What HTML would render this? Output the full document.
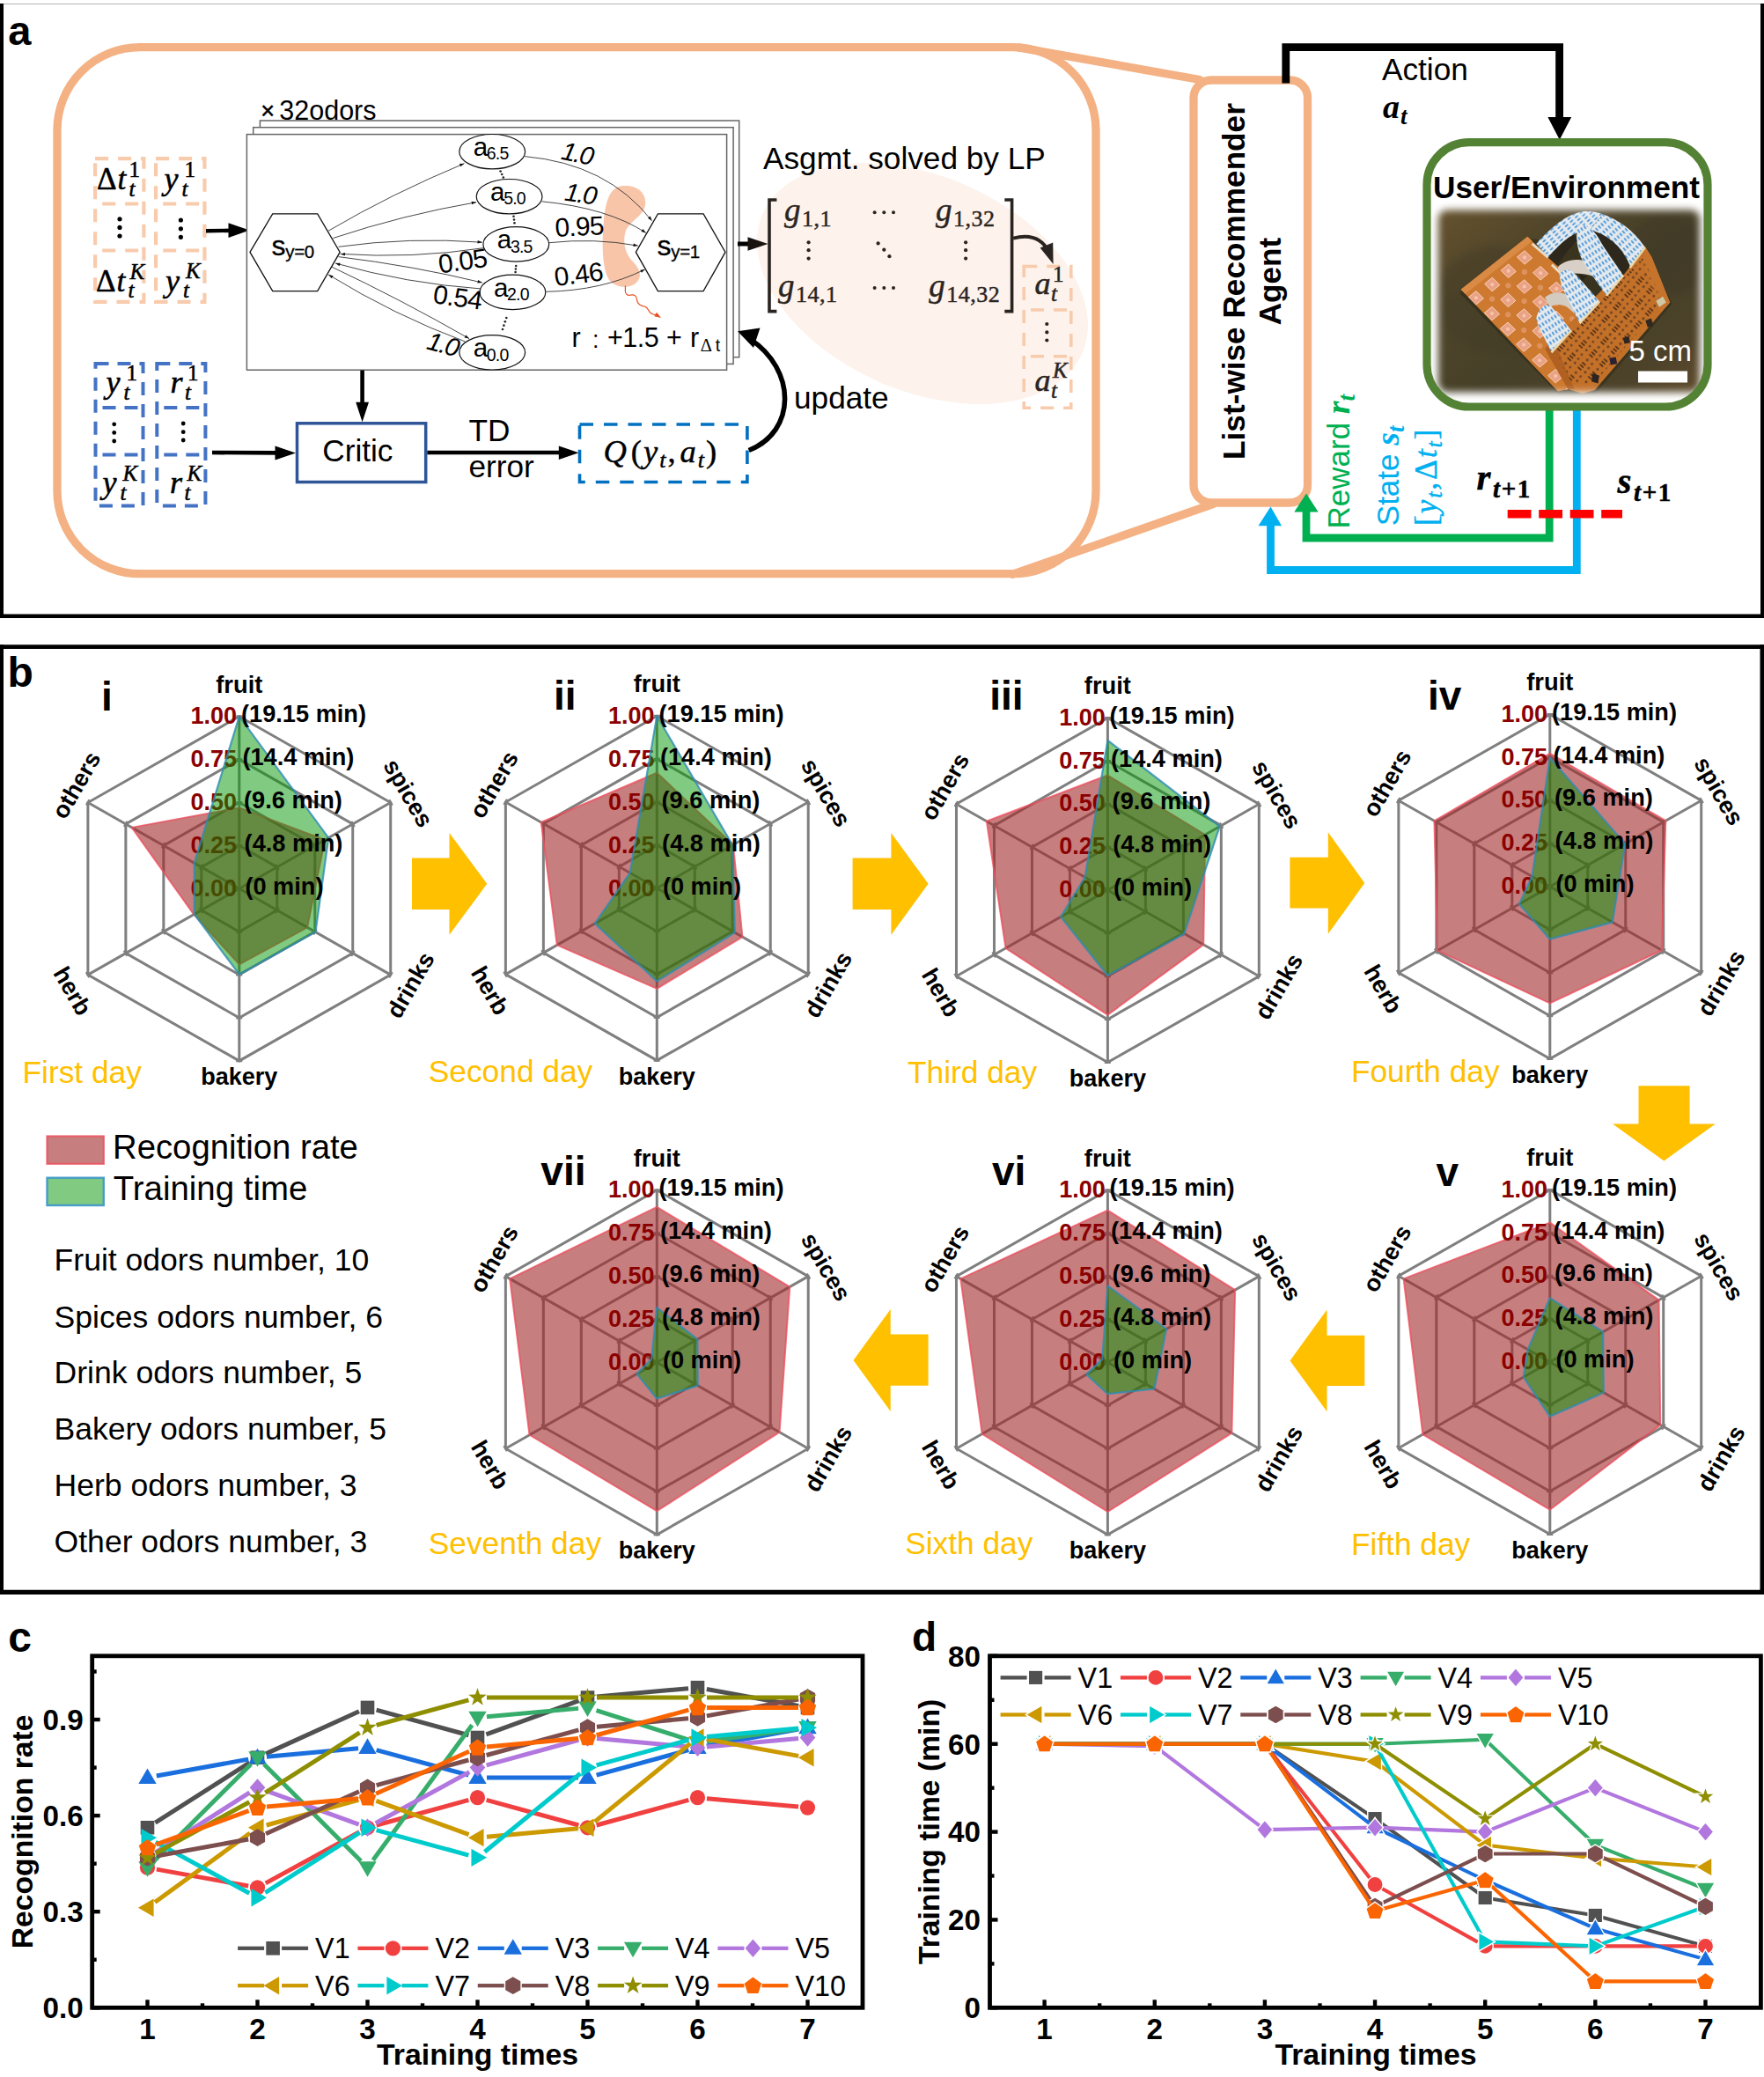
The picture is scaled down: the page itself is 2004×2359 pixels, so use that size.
<!DOCTYPE html>
<html lang="en"><head><meta charset="utf-8"><title>Figure</title>
<style>
html,body{margin:0;padding:0;background:#fff;}
svg{display:block;font-family:"Liberation Sans",sans-serif;}
</style></head><body>
<svg width="2004" height="2359" viewBox="0 0 2004 2359">
<rect x="0" y="0" width="2004" height="2359" fill="#fff"/>
<line x1="0" y1="4.5" x2="2004" y2="4.5" stroke="#b4b4b4" stroke-width="1.2"/>
<line x1="2" y1="4" x2="2" y2="702" stroke="#000" stroke-width="4"/>
<line x1="2002" y1="4" x2="2002" y2="702" stroke="#000" stroke-width="4"/>
<line x1="0" y1="699.8" x2="2004" y2="699.8" stroke="#000" stroke-width="4.6"/>
<text x="9.2" y="50.5" font-size="47" font-weight="bold" fill="#000">a</text>
<path d="M1157 53.8 L1363 90.5" fill="none" stroke="#F4B183" stroke-width="9.3" stroke-linecap="round"/>
<path d="M1150 652.3 L1378 572.5" fill="none" stroke="#F4B183" stroke-width="9.3" stroke-linecap="round"/>
<rect x="65" y="53.7" width="1180" height="598" rx="94" fill="none" stroke="#F4B183" stroke-width="9.3"/>
<rect x="1356" y="91" width="129.5" height="480" rx="20" fill="#fff" stroke="#F4B183" stroke-width="9.3"/>
<text x="1413.6" y="319.5" font-size="35.2" font-weight="bold" text-anchor="middle" fill="#000" transform="rotate(-90 1413.6 319.5)">List-wise Recommender</text>
<text x="1454.6" y="319.5" font-size="35.2" font-weight="bold" text-anchor="middle" fill="#000" transform="rotate(-90 1454.6 319.5)">Agent</text>
<ellipse cx="1048" cy="322" rx="198" ry="122" fill="#FDF2EC" transform="rotate(23.5 1048 322)"/>
<rect x="108.1" y="180.1" width="55.3" height="162.8" fill="none" stroke="#F8CBAD" stroke-width="4.2" stroke-dasharray="15 11"/>
<line x1="116.2" y1="231.5" x2="161.3" y2="231.5" stroke="#F8CBAD" stroke-width="4.2" stroke-dasharray="15 11"/>
<line x1="116.2" y1="284.5" x2="161.3" y2="284.5" stroke="#F8CBAD" stroke-width="4.2" stroke-dasharray="15 11"/>
<rect x="177.1" y="180.1" width="55.3" height="162.8" fill="none" stroke="#F8CBAD" stroke-width="4.2" stroke-dasharray="15 11"/>
<line x1="185.2" y1="231.5" x2="230.3" y2="231.5" stroke="#F8CBAD" stroke-width="4.2" stroke-dasharray="15 11"/>
<line x1="185.2" y1="284.5" x2="230.3" y2="284.5" stroke="#F8CBAD" stroke-width="4.2" stroke-dasharray="15 11"/>
<text x="110" y="215" font-size="35" font-style="italic" font-family='"Liberation Serif", serif' fill="#000" stroke="#000" stroke-width="0.55"><tspan font-style="normal">Δ</tspan><tspan dx="1">t</tspan></text>
<text x="146.5" y="201" font-size="25" font-family='"Liberation Serif", serif' fill="#000" stroke="#000" stroke-width="0.55">1</text>
<text x="146.5" y="222.7" font-size="25" font-style="italic" font-family='"Liberation Serif", serif' fill="#000" stroke="#000" stroke-width="0.55">t</text>
<text x="186.5" y="215" font-size="36" font-style="italic" font-family='"Liberation Serif", serif' fill="#000" stroke="#000" stroke-width="0.55">y</text>
<text x="209.5" y="200.6" font-size="25" font-family='"Liberation Serif", serif' fill="#000" stroke="#000" stroke-width="0.55">1</text>
<text x="206.5" y="222.92" font-size="25" font-style="italic" font-family='"Liberation Serif", serif' fill="#000" stroke="#000" stroke-width="0.55">t</text>
<text x="109" y="330.5" font-size="35" font-style="italic" font-family='"Liberation Serif", serif' fill="#000" stroke="#000" stroke-width="0.55"><tspan font-style="normal">Δ</tspan><tspan dx="1">t</tspan></text>
<text x="147.5" y="316.5" font-size="25" font-style="italic" font-family='"Liberation Serif", serif' fill="#000" stroke="#000" stroke-width="0.55">K</text>
<text x="145.5" y="338.2" font-size="25" font-style="italic" font-family='"Liberation Serif", serif' fill="#000" stroke="#000" stroke-width="0.55">t</text>
<text x="188" y="330.5" font-size="36" font-style="italic" font-family='"Liberation Serif", serif' fill="#000" stroke="#000" stroke-width="0.55">y</text>
<text x="211" y="316.1" font-size="25" font-style="italic" font-family='"Liberation Serif", serif' fill="#000" stroke="#000" stroke-width="0.55">K</text>
<text x="208" y="338.42" font-size="25" font-style="italic" font-family='"Liberation Serif", serif' fill="#000" stroke="#000" stroke-width="0.55">t</text>
<circle cx="136" cy="248.8" r="2.6" fill="#000" stroke="none" stroke-width="1"/>
<circle cx="136" cy="258.4" r="2.6" fill="#000" stroke="none" stroke-width="1"/>
<circle cx="136" cy="268" r="2.6" fill="#000" stroke="none" stroke-width="1"/>
<circle cx="205.4" cy="250" r="2.6" fill="#000" stroke="none" stroke-width="1"/>
<circle cx="205.4" cy="259.8" r="2.6" fill="#000" stroke="none" stroke-width="1"/>
<circle cx="205.4" cy="269.3" r="2.6" fill="#000" stroke="none" stroke-width="1"/>
<line x1="234" y1="262.2" x2="264" y2="261.8" stroke="#000" stroke-width="4.4"/>
<polygon points="283.5,261.5 259.5,253.3 259.5,270" fill="#000" stroke="none" stroke-width="1"/>
<rect x="295.4" y="137" width="544.3" height="268.7" fill="#fff" stroke="#666" stroke-width="1.5"/>
<rect x="287.7" y="144.7" width="545.4" height="268.7" fill="#fff" stroke="#666" stroke-width="1.5"/>
<rect x="280.4" y="152.6" width="545.2" height="267.6" fill="#fff" stroke="#666" stroke-width="1.5"/>
<text x="296.2" y="135.2" font-size="27" fill="#000" stroke="#000" stroke-width="0.5">×</text>
<text x="317.3" y="136.2" font-size="30.5" fill="#000">32odors</text>
<path d="M705 211.5 C722 209 735 218 733 233 C731 246 716 250 711 262 C707 274 710 287 718 296 C726 304 730 312 724 320 C717 328 700 328 692 318 C683 304 684 272 686 250 C688 230 692 214 705 211.5 Z" fill="#F8C5A9" stroke="none" stroke-width="1"/>
<polygon points="284,286.4 309.7,242.9 360.7,242.9 386.2,286.4 360.7,330.6 309.7,330.6" fill="#fff" stroke="#111" stroke-width="1.3"/>
<polygon points="722.4,286.4 747.4,242.9 799.1,242.9 824,286.4 799.1,330.6 747.4,330.6" fill="#fff" stroke="#111" stroke-width="1.3"/>
<text x="308.5" y="289.8" font-size="32" fill="#000" letter-spacing="-0.3" stroke="#000" stroke-width="0.3">s<tspan font-size="20.5" dy="3.2">y=0</tspan></text>
<text x="746.5" y="289.8" font-size="32" fill="#000" letter-spacing="-0.3" stroke="#000" stroke-width="0.3">s<tspan font-size="20.5" dy="3.2">y=1</tspan></text>
<ellipse cx="559.2" cy="172.2" rx="37.4" ry="19.7" fill="#fff" stroke="#111" stroke-width="1.2"/>
<text x="537.7" y="176.8" font-size="29.5" fill="#000" letter-spacing="-0.8">a<tspan font-size="19.5" dy="4.6" dx="-0.5">6.5</tspan></text>
<ellipse cx="578.6" cy="223.2" rx="37.4" ry="19.7" fill="#fff" stroke="#111" stroke-width="1.2"/>
<text x="557.1" y="227.8" font-size="29.5" fill="#000" letter-spacing="-0.8">a<tspan font-size="19.5" dy="4.6" dx="-0.5">5.0</tspan></text>
<ellipse cx="586.3" cy="277.4" rx="37.4" ry="19.7" fill="#fff" stroke="#111" stroke-width="1.2"/>
<text x="564.8" y="282" font-size="29.5" fill="#000" letter-spacing="-0.8">a<tspan font-size="19.5" dy="4.6" dx="-0.5">3.5</tspan></text>
<ellipse cx="582.4" cy="331.9" rx="37.4" ry="19.7" fill="#fff" stroke="#111" stroke-width="1.2"/>
<text x="560.9" y="336.5" font-size="29.5" fill="#000" letter-spacing="-0.8">a<tspan font-size="19.5" dy="4.6" dx="-0.5">2.0</tspan></text>
<ellipse cx="559.2" cy="400.3" rx="37.4" ry="19.7" fill="#fff" stroke="#111" stroke-width="1.2"/>
<text x="537.7" y="404.9" font-size="29.5" fill="#000" letter-spacing="-0.8">a<tspan font-size="19.5" dy="4.6" dx="-0.5">0.0</tspan></text>
<circle cx="568.6" cy="194.5" r="1.3" fill="#222" stroke="none" stroke-width="1"/>
<circle cx="570.2" cy="198" r="1.3" fill="#222" stroke="none" stroke-width="1"/>
<circle cx="571.8" cy="201.5" r="1.3" fill="#222" stroke="none" stroke-width="1"/>
<circle cx="583.5" cy="245.8" r="1.3" fill="#222" stroke="none" stroke-width="1"/>
<circle cx="584" cy="249.5" r="1.3" fill="#222" stroke="none" stroke-width="1"/>
<circle cx="584.5" cy="253.2" r="1.3" fill="#222" stroke="none" stroke-width="1"/>
<circle cx="586.2" cy="302" r="1.3" fill="#222" stroke="none" stroke-width="1"/>
<circle cx="585.9" cy="305.5" r="1.3" fill="#222" stroke="none" stroke-width="1"/>
<circle cx="585.6" cy="309" r="1.3" fill="#222" stroke="none" stroke-width="1"/>
<circle cx="575.3" cy="361" r="1.3" fill="#222" stroke="none" stroke-width="1"/>
<circle cx="573.87" cy="365.33" r="1.3" fill="#222" stroke="none" stroke-width="1"/>
<circle cx="572.43" cy="369.67" r="1.3" fill="#222" stroke="none" stroke-width="1"/>
<circle cx="571" cy="374" r="1.3" fill="#222" stroke="none" stroke-width="1"/>
<path d="M373.2 262.1 Q445 220 527.4 185.7" fill="none" stroke="#333" stroke-width="0.9"/>
<polygon points="527.4,185.7 523.29,189.36 521.91,186.04" fill="#111" stroke="none" stroke-width="1"/>
<path d="M378.4 270.5 Q458 244 541 229.7" fill="none" stroke="#333" stroke-width="0.9"/>
<polygon points="541,229.7 536.18,232.36 535.57,228.81" fill="#111" stroke="none" stroke-width="1"/>
<path d="M384.5 280.3 Q465 269 547.8 275.2" fill="none" stroke="#333" stroke-width="0.9"/>
<polygon points="547.8,275.2 542.48,276.61 542.75,273.02" fill="#111" stroke="none" stroke-width="1"/>
<path d="M550 281.6 Q468 294 386.8 288.4" fill="none" stroke="#333" stroke-width="0.9"/>
<polygon points="386.8,288.4 392.11,286.96 391.86,290.55" fill="#111" stroke="none" stroke-width="1"/>
<path d="M384.5 291.6 Q470 302 547.8 321" fill="none" stroke="#333" stroke-width="0.9"/>
<polygon points="547.8,321 542.32,321.51 543.18,318.02" fill="#111" stroke="none" stroke-width="1"/>
<path d="M545.5 327.9 Q462 322 381.1 299" fill="none" stroke="#333" stroke-width="0.9"/>
<polygon points="381.1,299 386.59,298.69 385.61,302.15" fill="#111" stroke="none" stroke-width="1"/>
<path d="M376.6 303 Q455 340 533 384.6" fill="none" stroke="#333" stroke-width="0.9"/>
<polygon points="533,384.6 527.59,383.58 529.38,380.46" fill="#111" stroke="none" stroke-width="1"/>
<path d="M528.5 388 Q448 358 373.2 312" fill="none" stroke="#333" stroke-width="0.9"/>
<polygon points="373.2,312 378.57,313.19 376.69,316.26" fill="#111" stroke="none" stroke-width="1"/>
<path d="M596 177.6 Q690 186 740.6 250.8" fill="none" stroke="#333" stroke-width="0.9"/>
<polygon points="740.6,250.8 735.98,247.81 738.82,245.59" fill="#111" stroke="none" stroke-width="1"/>
<path d="M615.4 228.8 Q690 236 733.8 264.4" fill="none" stroke="#333" stroke-width="0.9"/>
<polygon points="733.8,264.4 728.46,263.08 730.42,260.06" fill="#111" stroke="none" stroke-width="1"/>
<path d="M623.8 275.7 Q675 270 724.7 279.1" fill="none" stroke="#333" stroke-width="0.9"/>
<polygon points="724.7,279.1 719.26,279.93 719.91,276.39" fill="#111" stroke="none" stroke-width="1"/>
<path d="M620.4 331.3 Q685 330 732.7 305.9" fill="none" stroke="#333" stroke-width="0.9"/>
<polygon points="732.7,305.9 728.87,309.85 727.25,306.64" fill="#111" stroke="none" stroke-width="1"/>
<text x="636.5" y="180.5" font-size="29" font-style="italic" fill="#000" letter-spacing="-1.7" transform="rotate(12 636.5 180.5)">1.0</text>
<text x="640.5" y="227.5" font-size="29" font-style="italic" fill="#000" letter-spacing="-1.7" transform="rotate(8 640.5 227.5)">1.0</text>
<text x="631" y="269" font-size="30" fill="#000" letter-spacing="-0.8" transform="rotate(-3 631 269)">0.95</text>
<text x="631" y="325" font-size="30" fill="#000" letter-spacing="-0.8" transform="rotate(-7 631 325)">0.46</text>
<text x="499.5" y="310.5" font-size="30" fill="#000" letter-spacing="-0.8" transform="rotate(-8 499.5 310.5)">0.05</text>
<text x="491" y="344" font-size="30" fill="#000" letter-spacing="-0.8" transform="rotate(8 491 344)">0.54</text>
<text x="483.5" y="396" font-size="29" font-style="italic" fill="#000" letter-spacing="-1.7" transform="rotate(15 483.5 396)">1.0</text>
<path d="M710.4 324.5 L710.4 331 Q711 336 716 335.2 Q722.5 333.6 723.4 339.5 Q724 346 729.5 347.3 Q735 348 736.8 352.6 Q739 357 745 357.6" fill="none" stroke="#E9501E" stroke-width="1.2"/>
<polygon points="751,361 743.26,359.23 746.02,354.82" fill="#E9501E" stroke="none" stroke-width="1"/>
<text x="649.5" y="394" font-size="30.5" fill="#000">r</text>
<text x="673" y="395.2" font-size="27" fill="#000">:</text>
<text x="690" y="394" font-size="30.5" fill="#000" letter-spacing="-0.5">+1.5</text>
<text x="757" y="394" font-size="30.5" fill="#000">+</text>
<text x="784" y="394" font-size="30.5" fill="#000">r</text>
<text x="795.8" y="399.2" font-size="20.5" font-family='"Liberation Serif", serif' fill="#000">Δ</text>
<text x="812.8" y="399.2" font-size="19.5" fill="#000">t</text>
<line x1="838" y1="277" x2="853" y2="277" stroke="#000" stroke-width="5"/>
<polygon points="872.5,277 849.5,269.2 849.5,284.8" fill="#1a1410" stroke="none" stroke-width="1"/>
<text x="867" y="191.5" font-size="35.2" fill="#000">Asgmt. solved by LP</text>
<path d="M882.4 227 L874 227 L874 353.6 L882.4 353.6" fill="none" stroke="#2A2420" stroke-width="3.6"/>
<path d="M1141.3 227 L1149.6 227 L1149.6 353.6 L1141.3 353.6" fill="none" stroke="#2A2420" stroke-width="3.6"/>
<text x="891" y="250.6" font-size="37" font-family='"Liberation Serif", serif' fill="#2A2420" stroke="#2A2420" stroke-width="0.45"><tspan font-style="italic">g</tspan><tspan font-size="26" dy="6.6" dx="1.4" letter-spacing="0.5">1,1</tspan></text>
<text x="884" y="336.6" font-size="37" font-family='"Liberation Serif", serif' fill="#2A2420" stroke="#2A2420" stroke-width="0.45"><tspan font-style="italic">g</tspan><tspan font-size="26" dy="6.6" dx="1.4" letter-spacing="0.5">14,1</tspan></text>
<text x="1063" y="250.6" font-size="37" font-family='"Liberation Serif", serif' fill="#2A2420" stroke="#2A2420" stroke-width="0.45"><tspan font-style="italic">g</tspan><tspan font-size="26" dy="6.6" dx="1.4" letter-spacing="0.5">1,32</tspan></text>
<text x="1055.3" y="336.6" font-size="37" font-family='"Liberation Serif", serif' fill="#2A2420" stroke="#2A2420" stroke-width="0.45"><tspan font-style="italic">g</tspan><tspan font-size="26" dy="6.6" dx="1.4" letter-spacing="0.5">14,32</tspan></text>
<circle cx="993.6" cy="241.2" r="2" fill="#2A2420" stroke="none" stroke-width="1"/>
<circle cx="993.6" cy="326.9" r="2" fill="#2A2420" stroke="none" stroke-width="1"/>
<circle cx="1004.3" cy="241.2" r="2" fill="#2A2420" stroke="none" stroke-width="1"/>
<circle cx="1004.3" cy="326.9" r="2" fill="#2A2420" stroke="none" stroke-width="1"/>
<circle cx="1015" cy="241.2" r="2" fill="#2A2420" stroke="none" stroke-width="1"/>
<circle cx="1015" cy="326.9" r="2" fill="#2A2420" stroke="none" stroke-width="1"/>
<circle cx="997.6" cy="276.4" r="2.1" fill="#2A2420" stroke="none" stroke-width="1"/>
<circle cx="1004.3" cy="283.7" r="2.1" fill="#2A2420" stroke="none" stroke-width="1"/>
<circle cx="1010.4" cy="291.2" r="2.1" fill="#2A2420" stroke="none" stroke-width="1"/>
<circle cx="918.6" cy="275.3" r="2.1" fill="#2A2420" stroke="none" stroke-width="1"/>
<circle cx="918.6" cy="284.2" r="2.1" fill="#2A2420" stroke="none" stroke-width="1"/>
<circle cx="918.6" cy="293.6" r="2.1" fill="#2A2420" stroke="none" stroke-width="1"/>
<circle cx="1097.1" cy="275.3" r="2.1" fill="#2A2420" stroke="none" stroke-width="1"/>
<circle cx="1097.1" cy="284.2" r="2.1" fill="#2A2420" stroke="none" stroke-width="1"/>
<circle cx="1097.1" cy="293.6" r="2.1" fill="#2A2420" stroke="none" stroke-width="1"/>
<path d="M1151 270.6 Q1180 263 1191.5 286" fill="none" stroke="#2A2420" stroke-width="3.8"/>
<polygon points="1196.6,300 1181.6,281.5 1196.2,275.5" fill="#2A2420" stroke="none" stroke-width="1"/>
<rect x="1163.2" y="302.5" width="53.6" height="160.7" fill="none" stroke="#F8CBAD" stroke-width="3.6" stroke-dasharray="15 11"/>
<line x1="1171" y1="352" x2="1215" y2="352" stroke="#F8CBAD" stroke-width="3.6" stroke-dasharray="15 11"/>
<line x1="1171" y1="404.8" x2="1215" y2="404.8" stroke="#F8CBAD" stroke-width="3.6" stroke-dasharray="15 11"/>
<text x="1175.5" y="334" font-size="36" font-style="italic" font-family='"Liberation Serif", serif' fill="#2A2420" stroke="#2A2420" stroke-width="0.55">a</text>
<text x="1196" y="319.6" font-size="25" font-family='"Liberation Serif", serif' fill="#2A2420" stroke="#2A2420" stroke-width="0.55">1</text>
<text x="1194" y="341.92" font-size="25" font-style="italic" font-family='"Liberation Serif", serif' fill="#2A2420" stroke="#2A2420" stroke-width="0.55">t</text>
<text x="1175.5" y="443.6" font-size="36" font-style="italic" font-family='"Liberation Serif", serif' fill="#2A2420" stroke="#2A2420" stroke-width="0.55">a</text>
<text x="1196" y="429.2" font-size="25" font-style="italic" font-family='"Liberation Serif", serif' fill="#2A2420" stroke="#2A2420" stroke-width="0.55">K</text>
<text x="1194" y="451.52" font-size="25" font-style="italic" font-family='"Liberation Serif", serif' fill="#2A2420" stroke="#2A2420" stroke-width="0.55">t</text>
<circle cx="1189.3" cy="368" r="2.1" fill="#2A2420" stroke="none" stroke-width="1"/>
<circle cx="1189.3" cy="377.4" r="2.1" fill="#2A2420" stroke="none" stroke-width="1"/>
<circle cx="1189.3" cy="386.5" r="2.1" fill="#2A2420" stroke="none" stroke-width="1"/>
<text x="902" y="464.3" font-size="35.2" fill="#000">update</text>
<path d="M850.7 511.5 C905 490 905 420 852 385" fill="none" stroke="#000" stroke-width="5.6"/>
<polygon points="838,376.3 863.5,372.5 856,395" fill="#000" stroke="none" stroke-width="1"/>
<rect x="108.5" y="413" width="54" height="161.4" fill="none" stroke="#4472C4" stroke-width="4" stroke-dasharray="15 10"/>
<line x1="116.5" y1="463" x2="160.5" y2="463" stroke="#4472C4" stroke-width="4" stroke-dasharray="15 10"/>
<line x1="116.5" y1="516.5" x2="160.5" y2="516.5" stroke="#4472C4" stroke-width="4" stroke-dasharray="15 10"/>
<rect x="178.3" y="413" width="55.1" height="161.4" fill="none" stroke="#4472C4" stroke-width="4" stroke-dasharray="15 10"/>
<line x1="186.3" y1="463" x2="231.4" y2="463" stroke="#4472C4" stroke-width="4" stroke-dasharray="15 10"/>
<line x1="186.3" y1="516.5" x2="231.4" y2="516.5" stroke="#4472C4" stroke-width="4" stroke-dasharray="15 10"/>
<text x="120.5" y="446" font-size="36" font-style="italic" font-family='"Liberation Serif", serif' fill="#000" stroke="#000" stroke-width="0.55">y</text>
<text x="143.5" y="431.6" font-size="25" font-family='"Liberation Serif", serif' fill="#000" stroke="#000" stroke-width="0.55">1</text>
<text x="140.5" y="453.92" font-size="25" font-style="italic" font-family='"Liberation Serif", serif' fill="#000" stroke="#000" stroke-width="0.55">t</text>
<text x="193.5" y="446" font-size="36" font-style="italic" font-family='"Liberation Serif", serif' fill="#000" stroke="#000" stroke-width="0.55">r</text>
<text x="213" y="431.6" font-size="25" font-family='"Liberation Serif", serif' fill="#000" stroke="#000" stroke-width="0.55">1</text>
<text x="210" y="453.92" font-size="25" font-style="italic" font-family='"Liberation Serif", serif' fill="#000" stroke="#000" stroke-width="0.55">t</text>
<text x="116.5" y="560" font-size="36" font-style="italic" font-family='"Liberation Serif", serif' fill="#000" stroke="#000" stroke-width="0.55">y</text>
<text x="139.5" y="545.6" font-size="25" font-style="italic" font-family='"Liberation Serif", serif' fill="#000" stroke="#000" stroke-width="0.55">K</text>
<text x="136.5" y="567.92" font-size="25" font-style="italic" font-family='"Liberation Serif", serif' fill="#000" stroke="#000" stroke-width="0.55">t</text>
<text x="193" y="560" font-size="36" font-style="italic" font-family='"Liberation Serif", serif' fill="#000" stroke="#000" stroke-width="0.55">r</text>
<text x="212.5" y="545.6" font-size="25" font-style="italic" font-family='"Liberation Serif", serif' fill="#000" stroke="#000" stroke-width="0.55">K</text>
<text x="209.5" y="567.92" font-size="25" font-style="italic" font-family='"Liberation Serif", serif' fill="#000" stroke="#000" stroke-width="0.55">t</text>
<circle cx="129.7" cy="481.8" r="2.4" fill="#000" stroke="none" stroke-width="1"/>
<circle cx="129.7" cy="491.4" r="2.4" fill="#000" stroke="none" stroke-width="1"/>
<circle cx="129.7" cy="501" r="2.4" fill="#000" stroke="none" stroke-width="1"/>
<circle cx="208.2" cy="481" r="2.4" fill="#000" stroke="none" stroke-width="1"/>
<circle cx="208.2" cy="490.7" r="2.4" fill="#000" stroke="none" stroke-width="1"/>
<circle cx="208.2" cy="500" r="2.4" fill="#000" stroke="none" stroke-width="1"/>
<line x1="241" y1="514" x2="318" y2="514.4" stroke="#000" stroke-width="4.6"/>
<polygon points="336,514.5 312.5,506.5 312.5,522.5" fill="#000" stroke="none" stroke-width="1"/>
<rect x="337.5" y="480.8" width="146.2" height="66.7" fill="#fff" stroke="#2F5597" stroke-width="3.5"/>
<text x="366.3" y="524.4" font-size="35.2" fill="#000">Critic</text>
<line x1="411.6" y1="420.6" x2="411.6" y2="460" stroke="#000" stroke-width="4.6"/>
<polygon points="411.6,479.3 404.2,456.8 419,456.8" fill="#000" stroke="none" stroke-width="1"/>
<line x1="485.4" y1="514" x2="640" y2="514" stroke="#000" stroke-width="4.6"/>
<polygon points="657.5,514.2 634.8,506.4 634.8,522" fill="#000" stroke="none" stroke-width="1"/>
<text x="532.5" y="500.5" font-size="35.2" fill="#000">TD</text>
<text x="532.5" y="542.4" font-size="35.2" fill="#000">error</text>
<rect x="658.5" y="482" width="190.4" height="65.5" fill="none" stroke="#0070C0" stroke-width="3.6" stroke-dasharray="15.5 12"/>
<text x="685.5" y="524.5" font-size="36.5" font-family='"Liberation Serif", serif' fill="#000" letter-spacing="2" stroke="#000" stroke-width="0.45"><tspan font-style="italic">Q</tspan><tspan dx="3">(</tspan><tspan font-style="italic">y</tspan><tspan font-style="italic" font-size="26" dy="6">t</tspan><tspan dy="-6">,</tspan><tspan font-style="italic" dx="3">a</tspan><tspan font-style="italic" font-size="26" dy="6">t</tspan><tspan dy="-6">)</tspan></text>
<path d="M1460.8 94.6 L1460.8 53.7 L1771.6 53.7 L1771.6 136" fill="none" stroke="#000" stroke-width="8.8"/>
<polygon points="1771.8,158.8 1758.4,133 1785.2,133" fill="#000" stroke="none" stroke-width="1"/>
<text x="1570" y="91.2" font-size="35.2" fill="#000">Action</text>
<text x="1571" y="133.6" font-size="38" font-weight="bold" font-style="italic" font-family='"Liberation Serif", serif' fill="#000"><tspan>a</tspan><tspan font-size="27" dy="7" dx="1">t</tspan></text>
<path d="M1760.2 466 L1760.2 611 L1484 611 L1484 578" fill="none" stroke="#00B050" stroke-width="8.8"/>
<polygon points="1484,560.5 1470.3,581.6 1497.7,581.6" fill="#00B050" stroke="none" stroke-width="1"/>
<path d="M1791.3 463 L1791.3 647.5 L1443.5 647.5 L1443.5 594" fill="none" stroke="#00B0F0" stroke-width="8.8"/>
<polygon points="1443.5,575.4 1429.5,597.2 1456,597.2" fill="#00B0F0" stroke="none" stroke-width="1"/>
<line x1="1712.7" y1="583.7" x2="1843" y2="583.7" stroke="#FF0000" stroke-width="9.4" stroke-dasharray="26.8 8.7"/>
<text x="1533" y="600.5" font-size="35" fill="#00B050" transform="rotate(-90 1533 600.5)">Reward <tspan font-family='"Liberation Serif", serif' font-weight="bold" font-style="italic" font-size="38">r</tspan><tspan font-family='"Liberation Serif", serif' font-weight="bold" font-style="italic" font-size="27" dy="6">t</tspan></text>
<text x="1589.5" y="597.2" font-size="35" fill="#00B0F0" transform="rotate(-90 1589.5 597.2)">State <tspan font-family='"Liberation Serif", serif' font-weight="bold" font-style="italic" font-size="38">s</tspan><tspan font-family='"Liberation Serif", serif' font-weight="bold" font-style="italic" font-size="27" dy="6">t</tspan></text>
<text x="1632" y="597" font-size="35" font-family='"Liberation Serif", serif' fill="#00B0F0" letter-spacing="2.1" transform="rotate(-90 1632 597)" stroke="#00B0F0" stroke-width="0.5">[<tspan font-style="italic">y</tspan><tspan font-style="italic" font-size="25" dy="6">t</tspan><tspan dy="-6">,</tspan><tspan dx="1">Δ</tspan><tspan font-style="italic">t</tspan><tspan font-style="italic" font-size="25" dy="6">t</tspan><tspan dy="-6">]</tspan></text>
<text x="1677.5" y="556" font-size="41" font-weight="bold" font-style="italic" font-family='"Liberation Serif", serif' fill="#000" letter-spacing="1.6" stroke="#000" stroke-width="0.5"><tspan>r</tspan><tspan font-size="29" dy="9" dx="1">t</tspan><tspan font-size="29" font-style="normal">+1</tspan></text>
<text x="1837.5" y="559.7" font-size="41" font-weight="bold" font-style="italic" font-family='"Liberation Serif", serif' fill="#000" letter-spacing="1.6" stroke="#000" stroke-width="0.5"><tspan>s</tspan><tspan font-size="29" dy="9" dx="1">t</tspan><tspan font-size="29" font-style="normal">+1</tspan></text>
<defs>
<filter id="ph_blur" x="-5%" y="-5%" width="110%" height="110%"><feGaussianBlur stdDeviation="4"/></filter>
<filter id="ph_soft" x="-2%" y="-2%" width="104%" height="104%"><feGaussianBlur stdDeviation="2.2"/></filter>
<mask id="ph_mask" maskUnits="userSpaceOnUse" x="1600" y="200" width="380" height="290"><rect x="1634" y="238.5" width="297" height="207" rx="10" fill="#fff" filter="url(#ph_blur)"/></mask>
<clipPath id="ph_clip"><rect x="1625.5" y="166" width="310" height="291.5" rx="41"/></clipPath>
<linearGradient id="ph_bg" x1="0" y1="0" x2="1" y2="1"><stop offset="0" stop-color="#69542f"/><stop offset="0.3" stop-color="#50452a"/><stop offset="0.55" stop-color="#464028"/><stop offset="0.8" stop-color="#4d422a"/><stop offset="1" stop-color="#66512f"/></linearGradient>
<pattern id="ph_r1" width="46" height="25" patternUnits="userSpaceOnUse" patternTransform="rotate(-42)"><rect width="46" height="25" fill="#e4e9ee"/><rect x="5" y="7" width="27" height="10" rx="4" fill="#3c8fd6"/></pattern>
<pattern id="ph_r2" width="46" height="25" patternUnits="userSpaceOnUse" patternTransform="rotate(48)"><rect width="46" height="25" fill="#e4e9ee"/><rect x="5" y="7" width="27" height="10" rx="4" fill="#3c8fd6"/></pattern>
<pattern id="ph_r3" width="46" height="25" patternUnits="userSpaceOnUse" patternTransform="rotate(58)"><rect width="46" height="25" fill="#e4e9ee"/><rect x="5" y="7" width="27" height="10" rx="4" fill="#3c8fd6"/></pattern>
<pattern id="ph_r0" width="46" height="25" patternUnits="userSpaceOnUse" patternTransform="rotate(-5)"><rect width="46" height="25" fill="#e4e9ee"/><rect x="5" y="7" width="27" height="10" rx="4" fill="#3c8fd6"/></pattern>
<pattern id="ph_cmp" width="118" height="96" patternUnits="userSpaceOnUse" patternTransform="rotate(-48)"><rect x="8" y="10" width="9" height="32" fill="#2a1a0f"/><rect x="30" y="10" width="9" height="32" fill="#2a1a0f"/><rect x="52" y="10" width="9" height="32" fill="#2a1a0f"/><circle cx="92" cy="26" r="9" fill="#5a3824"/><circle cx="20" cy="72" r="9" fill="#5a3824"/><circle cx="56" cy="70" r="9" fill="#633d26"/><circle cx="94" cy="68" r="8" fill="#5a3824"/></pattern>
<clipPath id="ph_lb"><polygon points="120,600 580,235 800,450 1010,720 880,900 860,1290 790,1305"/></clipPath>
</defs>
<g clip-path="url(#ph_clip)"><g mask="url(#ph_mask)">
<rect x="1620" y="225" width="325" height="235" fill="url(#ph_bg)" stroke="none" stroke-width="1"/>
<ellipse cx="1700" cy="340" rx="70" ry="60" fill="#3f3b26" opacity="0.4" filter="url(#ph_blur)"/>
<ellipse cx="1895" cy="290" rx="50" ry="45" fill="#3c3626" opacity="0.4" filter="url(#ph_blur)"/>
<g transform="translate(1640 230) scale(0.16439)">
<polygon points="110,625 585,250 1400,330 1580,700 1050,1320 800,1330" fill="#2c2719" stroke="none" stroke-width="1" opacity="0.5" filter="url(#ph_soft)"/>
<polygon points="120,600 580,235 800,450 1010,720 880,900 860,1290 790,1305" fill="#cd792f" stroke="none" stroke-width="1"/>
<polygon points="120,600 580,235 612,266 150,632" fill="#d98a44" stroke="none" stroke-width="1"/>
<g clip-path="url(#ph_lb)">
<polygon points="560.47,332.76 507.83,376.48 559.53,427.24 612.17,383.52" fill="#eaa184" stroke="#f6d3bb" stroke-width="6" stroke-linejoin="round"/>
<circle cx="560" cy="380" r="13" fill="#f4c4ab" stroke="none" stroke-width="1"/>
<circle cx="559" cy="480.5" r="19" fill="#de935f" stroke="none" stroke-width="1"/>
<polygon points="670.47,440.76 617.83,484.48 669.53,535.24 722.17,491.52" fill="#eaa184" stroke="#f6d3bb" stroke-width="6" stroke-linejoin="round"/>
<circle cx="670" cy="488" r="13" fill="#f4c4ab" stroke="none" stroke-width="1"/>
<circle cx="669" cy="588.5" r="19" fill="#de935f" stroke="none" stroke-width="1"/>
<polygon points="780.47,548.76 727.83,592.48 779.53,643.24 832.17,599.52" fill="#eaa184" stroke="#f6d3bb" stroke-width="6" stroke-linejoin="round"/>
<circle cx="780" cy="596" r="13" fill="#f4c4ab" stroke="none" stroke-width="1"/>
<circle cx="779" cy="696.5" r="19" fill="#de935f" stroke="none" stroke-width="1"/>
<polygon points="890.47,656.76 837.83,700.48 889.53,751.24 942.17,707.52" fill="#eaa184" stroke="#f6d3bb" stroke-width="6" stroke-linejoin="round"/>
<circle cx="890" cy="704" r="13" fill="#f4c4ab" stroke="none" stroke-width="1"/>
<circle cx="889" cy="804.5" r="19" fill="#de935f" stroke="none" stroke-width="1"/>
<polygon points="1000.47,764.76 947.83,808.48 999.53,859.24 1052.17,815.52" fill="#eaa184" stroke="#f6d3bb" stroke-width="6" stroke-linejoin="round"/>
<circle cx="1000" cy="812" r="13" fill="#f4c4ab" stroke="none" stroke-width="1"/>
<circle cx="999" cy="912.5" r="19" fill="#de935f" stroke="none" stroke-width="1"/>
<polygon points="1110.47,872.76 1057.83,916.48 1109.53,967.24 1162.17,923.52" fill="#eaa184" stroke="#f6d3bb" stroke-width="6" stroke-linejoin="round"/>
<circle cx="1110" cy="920" r="13" fill="#f4c4ab" stroke="none" stroke-width="1"/>
<circle cx="1109" cy="1020.5" r="19" fill="#de935f" stroke="none" stroke-width="1"/>
<polygon points="1220.47,980.76 1167.83,1024.47 1219.53,1075.24 1272.17,1031.53" fill="#eaa184" stroke="#f6d3bb" stroke-width="6" stroke-linejoin="round"/>
<circle cx="1220" cy="1028" r="13" fill="#f4c4ab" stroke="none" stroke-width="1"/>
<circle cx="1219" cy="1128.5" r="19" fill="#de935f" stroke="none" stroke-width="1"/>
<polygon points="448.47,425.76 395.83,469.48 447.53,520.24 500.17,476.52" fill="#eaa184" stroke="#f6d3bb" stroke-width="6" stroke-linejoin="round"/>
<circle cx="448" cy="473" r="13" fill="#f4c4ab" stroke="none" stroke-width="1"/>
<circle cx="447" cy="573.5" r="19" fill="#de935f" stroke="none" stroke-width="1"/>
<polygon points="558.47,533.76 505.83,577.48 557.53,628.24 610.17,584.52" fill="#eaa184" stroke="#f6d3bb" stroke-width="6" stroke-linejoin="round"/>
<circle cx="558" cy="581" r="13" fill="#f4c4ab" stroke="none" stroke-width="1"/>
<circle cx="557" cy="681.5" r="19" fill="#de935f" stroke="none" stroke-width="1"/>
<polygon points="668.47,641.76 615.83,685.48 667.53,736.24 720.17,692.52" fill="#eaa184" stroke="#f6d3bb" stroke-width="6" stroke-linejoin="round"/>
<circle cx="668" cy="689" r="13" fill="#f4c4ab" stroke="none" stroke-width="1"/>
<circle cx="667" cy="789.5" r="19" fill="#de935f" stroke="none" stroke-width="1"/>
<polygon points="778.47,749.76 725.83,793.48 777.53,844.24 830.17,800.52" fill="#eaa184" stroke="#f6d3bb" stroke-width="6" stroke-linejoin="round"/>
<circle cx="778" cy="797" r="13" fill="#f4c4ab" stroke="none" stroke-width="1"/>
<circle cx="777" cy="897.5" r="19" fill="#de935f" stroke="none" stroke-width="1"/>
<polygon points="888.47,857.76 835.83,901.48 887.53,952.24 940.17,908.52" fill="#eaa184" stroke="#f6d3bb" stroke-width="6" stroke-linejoin="round"/>
<circle cx="888" cy="905" r="13" fill="#f4c4ab" stroke="none" stroke-width="1"/>
<circle cx="887" cy="1005.5" r="19" fill="#de935f" stroke="none" stroke-width="1"/>
<polygon points="998.47,965.76 945.83,1009.48 997.53,1060.24 1050.17,1016.52" fill="#eaa184" stroke="#f6d3bb" stroke-width="6" stroke-linejoin="round"/>
<circle cx="998" cy="1013" r="13" fill="#f4c4ab" stroke="none" stroke-width="1"/>
<circle cx="997" cy="1113.5" r="19" fill="#de935f" stroke="none" stroke-width="1"/>
<polygon points="1108.47,1073.76 1055.83,1117.47 1107.53,1168.24 1160.17,1124.53" fill="#eaa184" stroke="#f6d3bb" stroke-width="6" stroke-linejoin="round"/>
<circle cx="1108" cy="1121" r="13" fill="#f4c4ab" stroke="none" stroke-width="1"/>
<circle cx="1107" cy="1221.5" r="19" fill="#de935f" stroke="none" stroke-width="1"/>
<polygon points="336.47,518.76 283.83,562.48 335.53,613.24 388.17,569.52" fill="#eaa184" stroke="#f6d3bb" stroke-width="6" stroke-linejoin="round"/>
<circle cx="336" cy="566" r="13" fill="#f4c4ab" stroke="none" stroke-width="1"/>
<circle cx="335" cy="666.5" r="19" fill="#de935f" stroke="none" stroke-width="1"/>
<polygon points="446.47,626.76 393.83,670.48 445.53,721.24 498.17,677.52" fill="#eaa184" stroke="#f6d3bb" stroke-width="6" stroke-linejoin="round"/>
<circle cx="446" cy="674" r="13" fill="#f4c4ab" stroke="none" stroke-width="1"/>
<circle cx="445" cy="774.5" r="19" fill="#de935f" stroke="none" stroke-width="1"/>
<polygon points="556.47,734.76 503.83,778.48 555.53,829.24 608.17,785.52" fill="#eaa184" stroke="#f6d3bb" stroke-width="6" stroke-linejoin="round"/>
<circle cx="556" cy="782" r="13" fill="#f4c4ab" stroke="none" stroke-width="1"/>
<circle cx="555" cy="882.5" r="19" fill="#de935f" stroke="none" stroke-width="1"/>
<polygon points="666.47,842.76 613.83,886.48 665.53,937.24 718.17,893.52" fill="#eaa184" stroke="#f6d3bb" stroke-width="6" stroke-linejoin="round"/>
<circle cx="666" cy="890" r="13" fill="#f4c4ab" stroke="none" stroke-width="1"/>
<circle cx="665" cy="990.5" r="19" fill="#de935f" stroke="none" stroke-width="1"/>
<polygon points="776.47,950.76 723.83,994.48 775.53,1045.24 828.17,1001.52" fill="#eaa184" stroke="#f6d3bb" stroke-width="6" stroke-linejoin="round"/>
<circle cx="776" cy="998" r="13" fill="#f4c4ab" stroke="none" stroke-width="1"/>
<circle cx="775" cy="1098.5" r="19" fill="#de935f" stroke="none" stroke-width="1"/>
<polygon points="886.47,1058.76 833.83,1102.47 885.53,1153.24 938.17,1109.53" fill="#eaa184" stroke="#f6d3bb" stroke-width="6" stroke-linejoin="round"/>
<circle cx="886" cy="1106" r="13" fill="#f4c4ab" stroke="none" stroke-width="1"/>
<circle cx="885" cy="1206.5" r="19" fill="#de935f" stroke="none" stroke-width="1"/>
<polygon points="996.47,1166.76 943.83,1210.47 995.53,1261.24 1048.17,1217.53" fill="#eaa184" stroke="#f6d3bb" stroke-width="6" stroke-linejoin="round"/>
<circle cx="996" cy="1214" r="13" fill="#f4c4ab" stroke="none" stroke-width="1"/>
<circle cx="995" cy="1314.5" r="19" fill="#de935f" stroke="none" stroke-width="1"/>
<polygon points="224.47,611.76 171.83,655.48 223.53,706.24 276.17,662.52" fill="#eaa184" stroke="#f6d3bb" stroke-width="6" stroke-linejoin="round"/>
<circle cx="224" cy="659" r="13" fill="#f4c4ab" stroke="none" stroke-width="1"/>
<polygon points="334.47,719.76 281.83,763.48 333.53,814.24 386.17,770.52" fill="#eaa184" stroke="#f6d3bb" stroke-width="6" stroke-linejoin="round"/>
<circle cx="334" cy="767" r="13" fill="#f4c4ab" stroke="none" stroke-width="1"/>
<polygon points="444.47,827.76 391.83,871.48 443.53,922.24 496.17,878.52" fill="#eaa184" stroke="#f6d3bb" stroke-width="6" stroke-linejoin="round"/>
<circle cx="444" cy="875" r="13" fill="#f4c4ab" stroke="none" stroke-width="1"/>
<polygon points="554.47,935.76 501.83,979.48 553.53,1030.24 606.17,986.52" fill="#eaa184" stroke="#f6d3bb" stroke-width="6" stroke-linejoin="round"/>
<circle cx="554" cy="983" r="13" fill="#f4c4ab" stroke="none" stroke-width="1"/>
<polygon points="664.47,1043.76 611.83,1087.47 663.53,1138.24 716.17,1094.53" fill="#eaa184" stroke="#f6d3bb" stroke-width="6" stroke-linejoin="round"/>
<circle cx="664" cy="1091" r="13" fill="#f4c4ab" stroke="none" stroke-width="1"/>
<polygon points="774.47,1151.76 721.83,1195.47 773.53,1246.24 826.17,1202.53" fill="#eaa184" stroke="#f6d3bb" stroke-width="6" stroke-linejoin="round"/>
<circle cx="774" cy="1199" r="13" fill="#f4c4ab" stroke="none" stroke-width="1"/>
<polygon points="884.47,1259.76 831.83,1303.47 883.53,1354.24 936.17,1310.53" fill="#eaa184" stroke="#f6d3bb" stroke-width="6" stroke-linejoin="round"/>
<circle cx="884" cy="1307" r="13" fill="#f4c4ab" stroke="none" stroke-width="1"/>
</g>
<polygon points="700,1010 1390,300 1440,380 1565,690 1045,1295 960,1320 860,1290" fill="#c37028" stroke="none" stroke-width="1"/>
<polygon points="760,1010 1380,380 1520,690 1040,1250 880,1250" fill="url(#ph_cmp)" stroke="none" stroke-width="1" opacity="0.85"/>
<polygon points="1390,300 1440,380 1565,690 1500,760 1380,420" fill="#c97a30" stroke="none" stroke-width="1" opacity="0.45"/>
<polygon points="700,1010 760,950 905,1290 860,1290" fill="#a85a1c" stroke="none" stroke-width="1" opacity="0.7"/>
<path d="M1000 185 C1130 200 1240 310 1292 440 L1240 505 C1190 410 1120 310 1040 240 Z" fill="#2d281b" stroke="none" stroke-width="1"/>
<path d="M720 378 C790 300 850 240 905 212 L925 265 C880 300 830 370 785 435 Z" fill="#2d281b" stroke="none" stroke-width="1"/>
<path d="M790 445 C850 385 960 375 1060 440 C1100 475 1110 520 1095 545 C1040 500 930 470 800 505 Z" fill="#d8d0c6" stroke="none" stroke-width="1"/>
<path d="M700 655 C760 605 860 610 930 700 C940 730 920 760 900 765 C850 700 780 690 735 725 Z" fill="#d3cbc0" stroke="none" stroke-width="1"/>
<path d="M640 285 C740 175 850 80 960 62 C1010 58 1060 66 1100 80 L1010 190 C940 185 870 230 800 295 L722 376 Z" fill="url(#ph_r1)" stroke="none" stroke-width="1"/>
<path d="M1100 80 C1220 120 1330 210 1395 315 L1290 442 C1250 330 1150 220 1010 190 Z" fill="url(#ph_r2)" stroke="none" stroke-width="1"/>
<path d="M930 150 C1000 150 1050 200 1085 270 C1140 360 1195 430 1240 500 L1125 640 C1075 570 1000 470 960 400 C925 330 915 250 922 200 Z" fill="url(#ph_r3)" stroke="none" stroke-width="1"/>
<path d="M800 500 C830 455 875 455 905 490 C970 560 1020 615 1075 682 L940 832 C900 750 850 650 815 580 Z" fill="url(#ph_r3)" stroke="none" stroke-width="1"/>
<path d="M640 805 C650 735 700 690 740 715 C790 770 840 830 880 882 L745 1032 C710 960 660 880 640 805 Z" fill="url(#ph_r3)" stroke="none" stroke-width="1"/>
<polygon points="930,498 992,508 958,542" fill="#2a251a" stroke="none" stroke-width="1"/>
<line x1="612" y1="285" x2="722" y2="380" stroke="#e9dcc6" stroke-width="18"/>
<line x1="748" y1="430" x2="802" y2="482" stroke="#e9dcc6" stroke-width="18"/>
<line x1="1287" y1="452" x2="1392" y2="312" stroke="#ead9ae" stroke-width="15"/>
<line x1="1125" y1="645" x2="1243" y2="502" stroke="#ead9ae" stroke-width="15"/>
<line x1="940" y1="836" x2="1078" y2="684" stroke="#ead9ae" stroke-width="15"/>
<line x1="745" y1="1036" x2="883" y2="884" stroke="#ead9ae" stroke-width="15"/>
<polygon points="1468,680 1515,650 1538,690 1490,722" fill="#cfc8a6" stroke="none" stroke-width="1"/>
<polygon points="1030,1180 1075,1195 1068,1250 1022,1236" fill="#2b2422" stroke="none" stroke-width="1"/>
<polygon points="1145,1075 1190,1068 1200,1115 1155,1122" fill="#2a2232" stroke="none" stroke-width="1"/>
<polygon points="1240,935 1280,925 1290,968 1250,976" fill="#2e2620" stroke="none" stroke-width="1"/>
<polygon points="1395,815 1435,800 1450,850 1410,862" fill="#2e2a22" stroke="none" stroke-width="1"/>
</g>
</g></g>
<rect x="1861" y="421.5" width="56" height="13" fill="#fff" stroke="none" stroke-width="1"/>
<text x="1850.5" y="409.5" font-size="33" fill="#fff">5 cm</text>
<rect x="1621" y="161.7" width="319" height="300.3" rx="48" fill="none" stroke="#548235" stroke-width="9.2"/>
<text x="1628" y="224.8" font-size="35.2" font-weight="bold" fill="#000">User/Environment</text>
<line x1="0" y1="734.6" x2="2004" y2="734.6" stroke="#000" stroke-width="4.8"/>
<line x1="0" y1="1808.3" x2="2004" y2="1808.3" stroke="#000" stroke-width="5.2"/>
<line x1="2" y1="732.3" x2="2" y2="1811" stroke="#000" stroke-width="4"/>
<line x1="2001.8" y1="732.3" x2="2001.8" y2="1811" stroke="#000" stroke-width="4.6"/>
<text x="8.5" y="779.5" font-size="48" font-weight="bold" fill="#000">b</text>
<polygon points="271.8,960.4 314.78,984.85 314.78,1033.75 271.8,1058.2 228.82,1033.75 228.82,984.85" fill="none" stroke="#7F7F7F" stroke-width="3" stroke-linejoin="miter"/>
<polygon points="271.8,911.5 357.75,960.4 357.75,1058.2 271.8,1107.1 185.85,1058.2 185.85,960.4" fill="none" stroke="#7F7F7F" stroke-width="3" stroke-linejoin="miter"/>
<polygon points="271.8,862.6 400.73,935.95 400.73,1082.65 271.8,1156 142.87,1082.65 142.87,935.95" fill="none" stroke="#7F7F7F" stroke-width="3" stroke-linejoin="miter"/>
<polygon points="271.8,813.7 443.71,911.5 443.71,1107.1 271.8,1204.9 99.89,1107.1 99.89,911.5" fill="none" stroke="#7F7F7F" stroke-width="3" stroke-linejoin="miter"/>
<line x1="271.8" y1="1009.3" x2="271.8" y2="813.7" stroke="#7F7F7F" stroke-width="3"/>
<line x1="268.4" y1="960.4" x2="275.4" y2="960.4" stroke="#7F7F7F" stroke-width="2.8"/>
<line x1="268.4" y1="911.5" x2="275.4" y2="911.5" stroke="#7F7F7F" stroke-width="2.8"/>
<line x1="268.4" y1="862.6" x2="275.4" y2="862.6" stroke="#7F7F7F" stroke-width="2.8"/>
<line x1="268.4" y1="813.7" x2="275.4" y2="813.7" stroke="#7F7F7F" stroke-width="2.8"/>
<line x1="271.8" y1="1009.3" x2="443.71" y2="911.5" stroke="#7F7F7F" stroke-width="3"/>
<line x1="313.08" y1="981.91" x2="316.58" y2="987.97" stroke="#7F7F7F" stroke-width="2.8"/>
<line x1="356.05" y1="957.46" x2="359.55" y2="963.52" stroke="#7F7F7F" stroke-width="2.8"/>
<line x1="399.03" y1="933.01" x2="402.53" y2="939.07" stroke="#7F7F7F" stroke-width="2.8"/>
<line x1="442.01" y1="908.56" x2="445.51" y2="914.62" stroke="#7F7F7F" stroke-width="2.8"/>
<line x1="271.8" y1="1009.3" x2="443.71" y2="1107.1" stroke="#7F7F7F" stroke-width="3"/>
<line x1="316.48" y1="1030.81" x2="312.98" y2="1036.87" stroke="#7F7F7F" stroke-width="2.8"/>
<line x1="359.45" y1="1055.26" x2="355.95" y2="1061.32" stroke="#7F7F7F" stroke-width="2.8"/>
<line x1="402.43" y1="1079.71" x2="398.93" y2="1085.77" stroke="#7F7F7F" stroke-width="2.8"/>
<line x1="445.41" y1="1104.16" x2="441.91" y2="1110.22" stroke="#7F7F7F" stroke-width="2.8"/>
<line x1="271.8" y1="1009.3" x2="271.8" y2="1204.9" stroke="#7F7F7F" stroke-width="3"/>
<line x1="275.2" y1="1058.2" x2="268.2" y2="1058.2" stroke="#7F7F7F" stroke-width="2.8"/>
<line x1="275.2" y1="1107.1" x2="268.2" y2="1107.1" stroke="#7F7F7F" stroke-width="2.8"/>
<line x1="275.2" y1="1156" x2="268.2" y2="1156" stroke="#7F7F7F" stroke-width="2.8"/>
<line x1="275.2" y1="1204.9" x2="268.2" y2="1204.9" stroke="#7F7F7F" stroke-width="2.8"/>
<line x1="271.8" y1="1009.3" x2="99.89" y2="1107.1" stroke="#7F7F7F" stroke-width="3"/>
<line x1="230.52" y1="1036.69" x2="227.02" y2="1030.63" stroke="#7F7F7F" stroke-width="2.8"/>
<line x1="187.55" y1="1061.14" x2="184.05" y2="1055.08" stroke="#7F7F7F" stroke-width="2.8"/>
<line x1="144.57" y1="1085.59" x2="141.07" y2="1079.53" stroke="#7F7F7F" stroke-width="2.8"/>
<line x1="101.59" y1="1110.04" x2="98.09" y2="1103.98" stroke="#7F7F7F" stroke-width="2.8"/>
<line x1="271.8" y1="1009.3" x2="99.89" y2="911.5" stroke="#7F7F7F" stroke-width="3"/>
<line x1="227.12" y1="987.79" x2="230.62" y2="981.73" stroke="#7F7F7F" stroke-width="2.8"/>
<line x1="184.15" y1="963.34" x2="187.65" y2="957.28" stroke="#7F7F7F" stroke-width="2.8"/>
<line x1="141.17" y1="938.89" x2="144.67" y2="932.83" stroke="#7F7F7F" stroke-width="2.8"/>
<line x1="98.19" y1="914.44" x2="101.69" y2="908.38" stroke="#7F7F7F" stroke-width="2.8"/>
<polygon points="271.8,917.37 369.1,953.95 349.16,1053.31 271.8,1095.36 220.23,1038.64 149.75,939.86" fill="rgba(160,40,40,0.6)" stroke="rgba(235,80,95,0.8)" stroke-width="2" stroke-linejoin="round"/>
<text x="269.1" y="821.9" font-size="27" font-weight="bold" text-anchor="end" fill="#8B0000">1.00</text>
<text x="269.1" y="870.8" font-size="27" font-weight="bold" text-anchor="end" fill="#8B0000">0.75</text>
<text x="269.1" y="919.7" font-size="27" font-weight="bold" text-anchor="end" fill="#8B0000">0.50</text>
<text x="269.1" y="968.6" font-size="27" font-weight="bold" text-anchor="end" fill="#8B0000">0.25</text>
<text x="269.1" y="1017.5" font-size="27" font-weight="bold" text-anchor="end" fill="#8B0000">0.00</text>
<polygon points="271.8,813.7 373.22,951.6 358.44,1058.59 271.8,1106.71 220.74,1038.35 220.74,980.25" fill="rgba(4,150,4,0.5)" stroke="rgba(45,140,180,0.8)" stroke-width="2.2" stroke-linejoin="round"/>
<text x="274" y="819.9" font-size="27.2" font-weight="bold" fill="#000">(19.15 min)</text>
<text x="275.4" y="868.8" font-size="27.2" font-weight="bold" fill="#000">(14.4 min)</text>
<text x="277" y="917.7" font-size="27.2" font-weight="bold" fill="#000">(9.6 min)</text>
<text x="277.6" y="966.6" font-size="27.2" font-weight="bold" fill="#000">(4.8 min)</text>
<text x="278.4" y="1015.5" font-size="27.2" font-weight="bold" fill="#000">(0 min)</text>
<text x="271.8" y="786.7" font-size="27.3" font-weight="bold" text-anchor="middle" fill="#000">fruit</text>
<text x="271.8" y="1232" font-size="27" font-weight="bold" text-anchor="middle" fill="#000">bakery</text>
<g transform="translate(87.8 892.3) rotate(-60)"><text x="0" y="8" font-size="27" font-weight="bold" text-anchor="middle" fill="#000">others</text></g>
<g transform="translate(462.8 901.3) rotate(60)"><text x="0" y="8" font-size="27" font-weight="bold" text-anchor="middle" fill="#000">spices</text></g>
<g transform="translate(467.3 1119.3) rotate(-60)"><text x="0" y="8" font-size="27" font-weight="bold" text-anchor="middle" fill="#000">drinks</text></g>
<g transform="translate(81.3 1126.3) rotate(60)"><text x="0" y="8" font-size="27" font-weight="bold" text-anchor="middle" fill="#000">herb</text></g>
<polygon points="746.3,959.9 789.28,984.35 789.28,1033.25 746.3,1057.7 703.32,1033.25 703.32,984.35" fill="none" stroke="#7F7F7F" stroke-width="3" stroke-linejoin="miter"/>
<polygon points="746.3,911 832.25,959.9 832.25,1057.7 746.3,1106.6 660.35,1057.7 660.35,959.9" fill="none" stroke="#7F7F7F" stroke-width="3" stroke-linejoin="miter"/>
<polygon points="746.3,862.1 875.23,935.45 875.23,1082.15 746.3,1155.5 617.37,1082.15 617.37,935.45" fill="none" stroke="#7F7F7F" stroke-width="3" stroke-linejoin="miter"/>
<polygon points="746.3,813.2 918.21,911 918.21,1106.6 746.3,1204.4 574.39,1106.6 574.39,911" fill="none" stroke="#7F7F7F" stroke-width="3" stroke-linejoin="miter"/>
<line x1="746.3" y1="1008.8" x2="746.3" y2="813.2" stroke="#7F7F7F" stroke-width="3"/>
<line x1="742.9" y1="959.9" x2="749.9" y2="959.9" stroke="#7F7F7F" stroke-width="2.8"/>
<line x1="742.9" y1="911" x2="749.9" y2="911" stroke="#7F7F7F" stroke-width="2.8"/>
<line x1="742.9" y1="862.1" x2="749.9" y2="862.1" stroke="#7F7F7F" stroke-width="2.8"/>
<line x1="742.9" y1="813.2" x2="749.9" y2="813.2" stroke="#7F7F7F" stroke-width="2.8"/>
<line x1="746.3" y1="1008.8" x2="918.21" y2="911" stroke="#7F7F7F" stroke-width="3"/>
<line x1="787.58" y1="981.41" x2="791.08" y2="987.47" stroke="#7F7F7F" stroke-width="2.8"/>
<line x1="830.55" y1="956.96" x2="834.05" y2="963.02" stroke="#7F7F7F" stroke-width="2.8"/>
<line x1="873.53" y1="932.51" x2="877.03" y2="938.57" stroke="#7F7F7F" stroke-width="2.8"/>
<line x1="916.51" y1="908.06" x2="920.01" y2="914.12" stroke="#7F7F7F" stroke-width="2.8"/>
<line x1="746.3" y1="1008.8" x2="918.21" y2="1106.6" stroke="#7F7F7F" stroke-width="3"/>
<line x1="790.98" y1="1030.31" x2="787.48" y2="1036.37" stroke="#7F7F7F" stroke-width="2.8"/>
<line x1="833.95" y1="1054.76" x2="830.45" y2="1060.82" stroke="#7F7F7F" stroke-width="2.8"/>
<line x1="876.93" y1="1079.21" x2="873.43" y2="1085.27" stroke="#7F7F7F" stroke-width="2.8"/>
<line x1="919.91" y1="1103.66" x2="916.41" y2="1109.72" stroke="#7F7F7F" stroke-width="2.8"/>
<line x1="746.3" y1="1008.8" x2="746.3" y2="1204.4" stroke="#7F7F7F" stroke-width="3"/>
<line x1="749.7" y1="1057.7" x2="742.7" y2="1057.7" stroke="#7F7F7F" stroke-width="2.8"/>
<line x1="749.7" y1="1106.6" x2="742.7" y2="1106.6" stroke="#7F7F7F" stroke-width="2.8"/>
<line x1="749.7" y1="1155.5" x2="742.7" y2="1155.5" stroke="#7F7F7F" stroke-width="2.8"/>
<line x1="749.7" y1="1204.4" x2="742.7" y2="1204.4" stroke="#7F7F7F" stroke-width="2.8"/>
<line x1="746.3" y1="1008.8" x2="574.39" y2="1106.6" stroke="#7F7F7F" stroke-width="3"/>
<line x1="705.02" y1="1036.19" x2="701.52" y2="1030.13" stroke="#7F7F7F" stroke-width="2.8"/>
<line x1="662.05" y1="1060.64" x2="658.55" y2="1054.58" stroke="#7F7F7F" stroke-width="2.8"/>
<line x1="619.07" y1="1085.09" x2="615.57" y2="1079.03" stroke="#7F7F7F" stroke-width="2.8"/>
<line x1="576.09" y1="1109.54" x2="572.59" y2="1103.48" stroke="#7F7F7F" stroke-width="2.8"/>
<line x1="746.3" y1="1008.8" x2="574.39" y2="911" stroke="#7F7F7F" stroke-width="3"/>
<line x1="701.62" y1="987.29" x2="705.12" y2="981.23" stroke="#7F7F7F" stroke-width="2.8"/>
<line x1="658.65" y1="962.84" x2="662.15" y2="956.78" stroke="#7F7F7F" stroke-width="2.8"/>
<line x1="615.67" y1="938.39" x2="619.17" y2="932.33" stroke="#7F7F7F" stroke-width="2.8"/>
<line x1="572.69" y1="913.94" x2="576.19" y2="907.88" stroke="#7F7F7F" stroke-width="2.8"/>
<polygon points="746.3,877.75 832.94,959.51 843.43,1064.06 746.3,1122.83 632.84,1073.35 614.79,933.98" fill="rgba(160,40,40,0.6)" stroke="rgba(235,80,95,0.8)" stroke-width="2" stroke-linejoin="round"/>
<text x="743.6" y="822.4" font-size="27" font-weight="bold" text-anchor="end" fill="#8B0000">1.00</text>
<text x="743.6" y="871.3" font-size="27" font-weight="bold" text-anchor="end" fill="#8B0000">0.75</text>
<text x="743.6" y="920.2" font-size="27" font-weight="bold" text-anchor="end" fill="#8B0000">0.50</text>
<text x="743.6" y="969.1" font-size="27" font-weight="bold" text-anchor="end" fill="#8B0000">0.25</text>
<text x="743.6" y="1018" font-size="27" font-weight="bold" text-anchor="end" fill="#8B0000">0.00</text>
<polygon points="746.3,813.2 832.25,959.9 834.83,1059.17 746.3,1114.42 675.82,1048.9 715.7,991.39" fill="rgba(4,150,4,0.5)" stroke="rgba(45,140,180,0.8)" stroke-width="2.2" stroke-linejoin="round"/>
<text x="748.5" y="820.4" font-size="27.2" font-weight="bold" fill="#000">(19.15 min)</text>
<text x="749.9" y="869.3" font-size="27.2" font-weight="bold" fill="#000">(14.4 min)</text>
<text x="751.5" y="918.2" font-size="27.2" font-weight="bold" fill="#000">(9.6 min)</text>
<text x="752.1" y="967.1" font-size="27.2" font-weight="bold" fill="#000">(4.8 min)</text>
<text x="752.9" y="1016" font-size="27.2" font-weight="bold" fill="#000">(0 min)</text>
<text x="746.3" y="786.2" font-size="27.3" font-weight="bold" text-anchor="middle" fill="#000">fruit</text>
<text x="746.3" y="1231.5" font-size="27" font-weight="bold" text-anchor="middle" fill="#000">bakery</text>
<g transform="translate(562.3 891.8) rotate(-60)"><text x="0" y="8" font-size="27" font-weight="bold" text-anchor="middle" fill="#000">others</text></g>
<g transform="translate(937.3 900.8) rotate(60)"><text x="0" y="8" font-size="27" font-weight="bold" text-anchor="middle" fill="#000">spices</text></g>
<g transform="translate(941.8 1118.8) rotate(-60)"><text x="0" y="8" font-size="27" font-weight="bold" text-anchor="middle" fill="#000">drinks</text></g>
<g transform="translate(555.8 1125.8) rotate(60)"><text x="0" y="8" font-size="27" font-weight="bold" text-anchor="middle" fill="#000">herb</text></g>
<polygon points="1258.4,962.1 1301.38,986.55 1301.38,1035.45 1258.4,1059.9 1215.42,1035.45 1215.42,986.55" fill="none" stroke="#7F7F7F" stroke-width="3" stroke-linejoin="miter"/>
<polygon points="1258.4,913.2 1344.35,962.1 1344.35,1059.9 1258.4,1108.8 1172.45,1059.9 1172.45,962.1" fill="none" stroke="#7F7F7F" stroke-width="3" stroke-linejoin="miter"/>
<polygon points="1258.4,864.3 1387.33,937.65 1387.33,1084.35 1258.4,1157.7 1129.47,1084.35 1129.47,937.65" fill="none" stroke="#7F7F7F" stroke-width="3" stroke-linejoin="miter"/>
<polygon points="1258.4,815.4 1430.31,913.2 1430.31,1108.8 1258.4,1206.6 1086.49,1108.8 1086.49,913.2" fill="none" stroke="#7F7F7F" stroke-width="3" stroke-linejoin="miter"/>
<line x1="1258.4" y1="1011" x2="1258.4" y2="815.4" stroke="#7F7F7F" stroke-width="3"/>
<line x1="1255" y1="962.1" x2="1262" y2="962.1" stroke="#7F7F7F" stroke-width="2.8"/>
<line x1="1255" y1="913.2" x2="1262" y2="913.2" stroke="#7F7F7F" stroke-width="2.8"/>
<line x1="1255" y1="864.3" x2="1262" y2="864.3" stroke="#7F7F7F" stroke-width="2.8"/>
<line x1="1255" y1="815.4" x2="1262" y2="815.4" stroke="#7F7F7F" stroke-width="2.8"/>
<line x1="1258.4" y1="1011" x2="1430.31" y2="913.2" stroke="#7F7F7F" stroke-width="3"/>
<line x1="1299.68" y1="983.61" x2="1303.18" y2="989.67" stroke="#7F7F7F" stroke-width="2.8"/>
<line x1="1342.65" y1="959.16" x2="1346.15" y2="965.22" stroke="#7F7F7F" stroke-width="2.8"/>
<line x1="1385.63" y1="934.71" x2="1389.13" y2="940.77" stroke="#7F7F7F" stroke-width="2.8"/>
<line x1="1428.61" y1="910.26" x2="1432.11" y2="916.32" stroke="#7F7F7F" stroke-width="2.8"/>
<line x1="1258.4" y1="1011" x2="1430.31" y2="1108.8" stroke="#7F7F7F" stroke-width="3"/>
<line x1="1303.08" y1="1032.51" x2="1299.58" y2="1038.57" stroke="#7F7F7F" stroke-width="2.8"/>
<line x1="1346.05" y1="1056.96" x2="1342.55" y2="1063.02" stroke="#7F7F7F" stroke-width="2.8"/>
<line x1="1389.03" y1="1081.41" x2="1385.53" y2="1087.47" stroke="#7F7F7F" stroke-width="2.8"/>
<line x1="1432.01" y1="1105.86" x2="1428.51" y2="1111.92" stroke="#7F7F7F" stroke-width="2.8"/>
<line x1="1258.4" y1="1011" x2="1258.4" y2="1206.6" stroke="#7F7F7F" stroke-width="3"/>
<line x1="1261.8" y1="1059.9" x2="1254.8" y2="1059.9" stroke="#7F7F7F" stroke-width="2.8"/>
<line x1="1261.8" y1="1108.8" x2="1254.8" y2="1108.8" stroke="#7F7F7F" stroke-width="2.8"/>
<line x1="1261.8" y1="1157.7" x2="1254.8" y2="1157.7" stroke="#7F7F7F" stroke-width="2.8"/>
<line x1="1261.8" y1="1206.6" x2="1254.8" y2="1206.6" stroke="#7F7F7F" stroke-width="2.8"/>
<line x1="1258.4" y1="1011" x2="1086.49" y2="1108.8" stroke="#7F7F7F" stroke-width="3"/>
<line x1="1217.12" y1="1038.39" x2="1213.62" y2="1032.33" stroke="#7F7F7F" stroke-width="2.8"/>
<line x1="1174.15" y1="1062.84" x2="1170.65" y2="1056.78" stroke="#7F7F7F" stroke-width="2.8"/>
<line x1="1131.17" y1="1087.29" x2="1127.67" y2="1081.23" stroke="#7F7F7F" stroke-width="2.8"/>
<line x1="1088.19" y1="1111.74" x2="1084.69" y2="1105.68" stroke="#7F7F7F" stroke-width="2.8"/>
<line x1="1258.4" y1="1011" x2="1086.49" y2="913.2" stroke="#7F7F7F" stroke-width="3"/>
<line x1="1213.72" y1="989.49" x2="1217.22" y2="983.43" stroke="#7F7F7F" stroke-width="2.8"/>
<line x1="1170.75" y1="965.04" x2="1174.25" y2="958.98" stroke="#7F7F7F" stroke-width="2.8"/>
<line x1="1127.77" y1="940.59" x2="1131.27" y2="934.53" stroke="#7F7F7F" stroke-width="2.8"/>
<line x1="1084.79" y1="916.14" x2="1088.29" y2="910.08" stroke="#7F7F7F" stroke-width="2.8"/>
<polygon points="1258.4,880.53 1369.11,948.02 1367.22,1072.91 1258.4,1152.61 1142.54,1076.92 1120.88,932.76" fill="rgba(160,40,40,0.6)" stroke="rgba(235,80,95,0.8)" stroke-width="2" stroke-linejoin="round"/>
<text x="1255.7" y="823.6" font-size="27" font-weight="bold" text-anchor="end" fill="#8B0000">1.00</text>
<text x="1255.7" y="872.5" font-size="27" font-weight="bold" text-anchor="end" fill="#8B0000">0.75</text>
<text x="1255.7" y="921.4" font-size="27" font-weight="bold" text-anchor="end" fill="#8B0000">0.50</text>
<text x="1255.7" y="970.3" font-size="27" font-weight="bold" text-anchor="end" fill="#8B0000">0.25</text>
<text x="1255.7" y="1019.2" font-size="27" font-weight="bold" text-anchor="end" fill="#8B0000">0.00</text>
<polygon points="1258.4,840.83 1385.61,938.63 1345.38,1060.49 1258.4,1108.02 1205.11,1041.32 1232.61,996.33" fill="rgba(4,150,4,0.5)" stroke="rgba(45,140,180,0.8)" stroke-width="2.2" stroke-linejoin="round"/>
<text x="1260.6" y="821.6" font-size="27.2" font-weight="bold" fill="#000">(19.15 min)</text>
<text x="1262" y="870.5" font-size="27.2" font-weight="bold" fill="#000">(14.4 min)</text>
<text x="1263.6" y="919.4" font-size="27.2" font-weight="bold" fill="#000">(9.6 min)</text>
<text x="1264.2" y="968.3" font-size="27.2" font-weight="bold" fill="#000">(4.8 min)</text>
<text x="1265" y="1017.2" font-size="27.2" font-weight="bold" fill="#000">(0 min)</text>
<text x="1258.4" y="788.4" font-size="27.3" font-weight="bold" text-anchor="middle" fill="#000">fruit</text>
<text x="1258.4" y="1233.7" font-size="27" font-weight="bold" text-anchor="middle" fill="#000">bakery</text>
<g transform="translate(1074.4 894) rotate(-60)"><text x="0" y="8" font-size="27" font-weight="bold" text-anchor="middle" fill="#000">others</text></g>
<g transform="translate(1449.4 903) rotate(60)"><text x="0" y="8" font-size="27" font-weight="bold" text-anchor="middle" fill="#000">spices</text></g>
<g transform="translate(1453.9 1121) rotate(-60)"><text x="0" y="8" font-size="27" font-weight="bold" text-anchor="middle" fill="#000">drinks</text></g>
<g transform="translate(1067.9 1128) rotate(60)"><text x="0" y="8" font-size="27" font-weight="bold" text-anchor="middle" fill="#000">herb</text></g>
<polygon points="1760.8,958.1 1803.78,982.55 1803.78,1031.45 1760.8,1055.9 1717.82,1031.45 1717.82,982.55" fill="none" stroke="#7F7F7F" stroke-width="3" stroke-linejoin="miter"/>
<polygon points="1760.8,909.2 1846.75,958.1 1846.75,1055.9 1760.8,1104.8 1674.85,1055.9 1674.85,958.1" fill="none" stroke="#7F7F7F" stroke-width="3" stroke-linejoin="miter"/>
<polygon points="1760.8,860.3 1889.73,933.65 1889.73,1080.35 1760.8,1153.7 1631.87,1080.35 1631.87,933.65" fill="none" stroke="#7F7F7F" stroke-width="3" stroke-linejoin="miter"/>
<polygon points="1760.8,811.4 1932.71,909.2 1932.71,1104.8 1760.8,1202.6 1588.89,1104.8 1588.89,909.2" fill="none" stroke="#7F7F7F" stroke-width="3" stroke-linejoin="miter"/>
<line x1="1760.8" y1="1007" x2="1760.8" y2="811.4" stroke="#7F7F7F" stroke-width="3"/>
<line x1="1757.4" y1="958.1" x2="1764.4" y2="958.1" stroke="#7F7F7F" stroke-width="2.8"/>
<line x1="1757.4" y1="909.2" x2="1764.4" y2="909.2" stroke="#7F7F7F" stroke-width="2.8"/>
<line x1="1757.4" y1="860.3" x2="1764.4" y2="860.3" stroke="#7F7F7F" stroke-width="2.8"/>
<line x1="1757.4" y1="811.4" x2="1764.4" y2="811.4" stroke="#7F7F7F" stroke-width="2.8"/>
<line x1="1760.8" y1="1007" x2="1932.71" y2="909.2" stroke="#7F7F7F" stroke-width="3"/>
<line x1="1802.08" y1="979.61" x2="1805.58" y2="985.67" stroke="#7F7F7F" stroke-width="2.8"/>
<line x1="1845.05" y1="955.16" x2="1848.55" y2="961.22" stroke="#7F7F7F" stroke-width="2.8"/>
<line x1="1888.03" y1="930.71" x2="1891.53" y2="936.77" stroke="#7F7F7F" stroke-width="2.8"/>
<line x1="1931.01" y1="906.26" x2="1934.51" y2="912.32" stroke="#7F7F7F" stroke-width="2.8"/>
<line x1="1760.8" y1="1007" x2="1932.71" y2="1104.8" stroke="#7F7F7F" stroke-width="3"/>
<line x1="1805.48" y1="1028.51" x2="1801.98" y2="1034.57" stroke="#7F7F7F" stroke-width="2.8"/>
<line x1="1848.45" y1="1052.96" x2="1844.95" y2="1059.02" stroke="#7F7F7F" stroke-width="2.8"/>
<line x1="1891.43" y1="1077.41" x2="1887.93" y2="1083.47" stroke="#7F7F7F" stroke-width="2.8"/>
<line x1="1934.41" y1="1101.86" x2="1930.91" y2="1107.92" stroke="#7F7F7F" stroke-width="2.8"/>
<line x1="1760.8" y1="1007" x2="1760.8" y2="1202.6" stroke="#7F7F7F" stroke-width="3"/>
<line x1="1764.2" y1="1055.9" x2="1757.2" y2="1055.9" stroke="#7F7F7F" stroke-width="2.8"/>
<line x1="1764.2" y1="1104.8" x2="1757.2" y2="1104.8" stroke="#7F7F7F" stroke-width="2.8"/>
<line x1="1764.2" y1="1153.7" x2="1757.2" y2="1153.7" stroke="#7F7F7F" stroke-width="2.8"/>
<line x1="1764.2" y1="1202.6" x2="1757.2" y2="1202.6" stroke="#7F7F7F" stroke-width="2.8"/>
<line x1="1760.8" y1="1007" x2="1588.89" y2="1104.8" stroke="#7F7F7F" stroke-width="3"/>
<line x1="1719.52" y1="1034.39" x2="1716.02" y2="1028.33" stroke="#7F7F7F" stroke-width="2.8"/>
<line x1="1676.55" y1="1058.84" x2="1673.05" y2="1052.78" stroke="#7F7F7F" stroke-width="2.8"/>
<line x1="1633.57" y1="1083.29" x2="1630.07" y2="1077.23" stroke="#7F7F7F" stroke-width="2.8"/>
<line x1="1590.59" y1="1107.74" x2="1587.09" y2="1101.68" stroke="#7F7F7F" stroke-width="2.8"/>
<line x1="1760.8" y1="1007" x2="1588.89" y2="909.2" stroke="#7F7F7F" stroke-width="3"/>
<line x1="1716.12" y1="985.49" x2="1719.62" y2="979.43" stroke="#7F7F7F" stroke-width="2.8"/>
<line x1="1673.15" y1="961.04" x2="1676.65" y2="954.98" stroke="#7F7F7F" stroke-width="2.8"/>
<line x1="1630.17" y1="936.59" x2="1633.67" y2="930.53" stroke="#7F7F7F" stroke-width="2.8"/>
<line x1="1587.19" y1="912.14" x2="1590.69" y2="906.08" stroke="#7F7F7F" stroke-width="2.8"/>
<polygon points="1760.8,855.8 1892.31,932.18 1887.84,1079.27 1760.8,1139.42 1633.07,1079.67 1629.46,932.28" fill="rgba(160,40,40,0.6)" stroke="rgba(235,80,95,0.8)" stroke-width="2" stroke-linejoin="round"/>
<text x="1758.1" y="819.6" font-size="27" font-weight="bold" text-anchor="end" fill="#8B0000">1.00</text>
<text x="1758.1" y="868.5" font-size="27" font-weight="bold" text-anchor="end" fill="#8B0000">0.75</text>
<text x="1758.1" y="917.4" font-size="27" font-weight="bold" text-anchor="end" fill="#8B0000">0.50</text>
<text x="1758.1" y="966.3" font-size="27" font-weight="bold" text-anchor="end" fill="#8B0000">0.25</text>
<text x="1758.1" y="1015.2" font-size="27" font-weight="bold" text-anchor="end" fill="#8B0000">0.00</text>
<polygon points="1760.8,860.69 1846.24,958.39 1831.8,1047.39 1760.8,1066.66 1725.9,1026.85 1740.52,995.46" fill="rgba(4,150,4,0.5)" stroke="rgba(45,140,180,0.8)" stroke-width="2.2" stroke-linejoin="round"/>
<text x="1763" y="817.6" font-size="27.2" font-weight="bold" fill="#000">(19.15 min)</text>
<text x="1764.4" y="866.5" font-size="27.2" font-weight="bold" fill="#000">(14.4 min)</text>
<text x="1766" y="915.4" font-size="27.2" font-weight="bold" fill="#000">(9.6 min)</text>
<text x="1766.6" y="964.3" font-size="27.2" font-weight="bold" fill="#000">(4.8 min)</text>
<text x="1767.4" y="1013.2" font-size="27.2" font-weight="bold" fill="#000">(0 min)</text>
<text x="1760.8" y="784.4" font-size="27.3" font-weight="bold" text-anchor="middle" fill="#000">fruit</text>
<text x="1760.8" y="1229.7" font-size="27" font-weight="bold" text-anchor="middle" fill="#000">bakery</text>
<g transform="translate(1576.8 890) rotate(-60)"><text x="0" y="8" font-size="27" font-weight="bold" text-anchor="middle" fill="#000">others</text></g>
<g transform="translate(1951.8 899) rotate(60)"><text x="0" y="8" font-size="27" font-weight="bold" text-anchor="middle" fill="#000">spices</text></g>
<g transform="translate(1956.3 1117) rotate(-60)"><text x="0" y="8" font-size="27" font-weight="bold" text-anchor="middle" fill="#000">drinks</text></g>
<g transform="translate(1570.3 1124) rotate(60)"><text x="0" y="8" font-size="27" font-weight="bold" text-anchor="middle" fill="#000">herb</text></g>
<polygon points="1760.8,1498.1 1803.78,1522.55 1803.78,1571.45 1760.8,1595.9 1717.82,1571.45 1717.82,1522.55" fill="none" stroke="#7F7F7F" stroke-width="3" stroke-linejoin="miter"/>
<polygon points="1760.8,1449.2 1846.75,1498.1 1846.75,1595.9 1760.8,1644.8 1674.85,1595.9 1674.85,1498.1" fill="none" stroke="#7F7F7F" stroke-width="3" stroke-linejoin="miter"/>
<polygon points="1760.8,1400.3 1889.73,1473.65 1889.73,1620.35 1760.8,1693.7 1631.87,1620.35 1631.87,1473.65" fill="none" stroke="#7F7F7F" stroke-width="3" stroke-linejoin="miter"/>
<polygon points="1760.8,1351.4 1932.71,1449.2 1932.71,1644.8 1760.8,1742.6 1588.89,1644.8 1588.89,1449.2" fill="none" stroke="#7F7F7F" stroke-width="3" stroke-linejoin="miter"/>
<line x1="1760.8" y1="1547" x2="1760.8" y2="1351.4" stroke="#7F7F7F" stroke-width="3"/>
<line x1="1757.4" y1="1498.1" x2="1764.4" y2="1498.1" stroke="#7F7F7F" stroke-width="2.8"/>
<line x1="1757.4" y1="1449.2" x2="1764.4" y2="1449.2" stroke="#7F7F7F" stroke-width="2.8"/>
<line x1="1757.4" y1="1400.3" x2="1764.4" y2="1400.3" stroke="#7F7F7F" stroke-width="2.8"/>
<line x1="1757.4" y1="1351.4" x2="1764.4" y2="1351.4" stroke="#7F7F7F" stroke-width="2.8"/>
<line x1="1760.8" y1="1547" x2="1932.71" y2="1449.2" stroke="#7F7F7F" stroke-width="3"/>
<line x1="1802.08" y1="1519.61" x2="1805.58" y2="1525.67" stroke="#7F7F7F" stroke-width="2.8"/>
<line x1="1845.05" y1="1495.16" x2="1848.55" y2="1501.22" stroke="#7F7F7F" stroke-width="2.8"/>
<line x1="1888.03" y1="1470.71" x2="1891.53" y2="1476.77" stroke="#7F7F7F" stroke-width="2.8"/>
<line x1="1931.01" y1="1446.26" x2="1934.51" y2="1452.32" stroke="#7F7F7F" stroke-width="2.8"/>
<line x1="1760.8" y1="1547" x2="1932.71" y2="1644.8" stroke="#7F7F7F" stroke-width="3"/>
<line x1="1805.48" y1="1568.51" x2="1801.98" y2="1574.57" stroke="#7F7F7F" stroke-width="2.8"/>
<line x1="1848.45" y1="1592.96" x2="1844.95" y2="1599.02" stroke="#7F7F7F" stroke-width="2.8"/>
<line x1="1891.43" y1="1617.41" x2="1887.93" y2="1623.47" stroke="#7F7F7F" stroke-width="2.8"/>
<line x1="1934.41" y1="1641.86" x2="1930.91" y2="1647.92" stroke="#7F7F7F" stroke-width="2.8"/>
<line x1="1760.8" y1="1547" x2="1760.8" y2="1742.6" stroke="#7F7F7F" stroke-width="3"/>
<line x1="1764.2" y1="1595.9" x2="1757.2" y2="1595.9" stroke="#7F7F7F" stroke-width="2.8"/>
<line x1="1764.2" y1="1644.8" x2="1757.2" y2="1644.8" stroke="#7F7F7F" stroke-width="2.8"/>
<line x1="1764.2" y1="1693.7" x2="1757.2" y2="1693.7" stroke="#7F7F7F" stroke-width="2.8"/>
<line x1="1764.2" y1="1742.6" x2="1757.2" y2="1742.6" stroke="#7F7F7F" stroke-width="2.8"/>
<line x1="1760.8" y1="1547" x2="1588.89" y2="1644.8" stroke="#7F7F7F" stroke-width="3"/>
<line x1="1719.52" y1="1574.39" x2="1716.02" y2="1568.33" stroke="#7F7F7F" stroke-width="2.8"/>
<line x1="1676.55" y1="1598.84" x2="1673.05" y2="1592.78" stroke="#7F7F7F" stroke-width="2.8"/>
<line x1="1633.57" y1="1623.29" x2="1630.07" y2="1617.23" stroke="#7F7F7F" stroke-width="2.8"/>
<line x1="1590.59" y1="1647.74" x2="1587.09" y2="1641.68" stroke="#7F7F7F" stroke-width="2.8"/>
<line x1="1760.8" y1="1547" x2="1588.89" y2="1449.2" stroke="#7F7F7F" stroke-width="3"/>
<line x1="1716.12" y1="1525.49" x2="1719.62" y2="1519.43" stroke="#7F7F7F" stroke-width="2.8"/>
<line x1="1673.15" y1="1501.04" x2="1676.65" y2="1494.98" stroke="#7F7F7F" stroke-width="2.8"/>
<line x1="1630.17" y1="1476.59" x2="1633.67" y2="1470.53" stroke="#7F7F7F" stroke-width="2.8"/>
<line x1="1587.19" y1="1452.14" x2="1590.69" y2="1446.08" stroke="#7F7F7F" stroke-width="2.8"/>
<polygon points="1760.8,1388.56 1884.57,1476.58 1886.29,1618.39 1760.8,1714.63 1616.4,1629.15 1594.57,1452.43" fill="rgba(160,40,40,0.6)" stroke="rgba(235,80,95,0.8)" stroke-width="2" stroke-linejoin="round"/>
<text x="1758.1" y="1359.6" font-size="27" font-weight="bold" text-anchor="end" fill="#8B0000">1.00</text>
<text x="1758.1" y="1408.5" font-size="27" font-weight="bold" text-anchor="end" fill="#8B0000">0.75</text>
<text x="1758.1" y="1457.4" font-size="27" font-weight="bold" text-anchor="end" fill="#8B0000">0.50</text>
<text x="1758.1" y="1506.3" font-size="27" font-weight="bold" text-anchor="end" fill="#8B0000">0.25</text>
<text x="1758.1" y="1555.2" font-size="27" font-weight="bold" text-anchor="end" fill="#8B0000">0.00</text>
<polygon points="1760.8,1474.24 1821.14,1512.67 1821.83,1581.72 1760.8,1608.81 1730.72,1564.12 1735.7,1532.72" fill="rgba(4,150,4,0.5)" stroke="rgba(45,140,180,0.8)" stroke-width="2.2" stroke-linejoin="round"/>
<text x="1763" y="1357.6" font-size="27.2" font-weight="bold" fill="#000">(19.15 min)</text>
<text x="1764.4" y="1406.5" font-size="27.2" font-weight="bold" fill="#000">(14.4 min)</text>
<text x="1766" y="1455.4" font-size="27.2" font-weight="bold" fill="#000">(9.6 min)</text>
<text x="1766.6" y="1504.3" font-size="27.2" font-weight="bold" fill="#000">(4.8 min)</text>
<text x="1767.4" y="1553.2" font-size="27.2" font-weight="bold" fill="#000">(0 min)</text>
<text x="1760.8" y="1324.4" font-size="27.3" font-weight="bold" text-anchor="middle" fill="#000">fruit</text>
<text x="1760.8" y="1769.7" font-size="27" font-weight="bold" text-anchor="middle" fill="#000">bakery</text>
<g transform="translate(1576.8 1430) rotate(-60)"><text x="0" y="8" font-size="27" font-weight="bold" text-anchor="middle" fill="#000">others</text></g>
<g transform="translate(1951.8 1439) rotate(60)"><text x="0" y="8" font-size="27" font-weight="bold" text-anchor="middle" fill="#000">spices</text></g>
<g transform="translate(1956.3 1657) rotate(-60)"><text x="0" y="8" font-size="27" font-weight="bold" text-anchor="middle" fill="#000">drinks</text></g>
<g transform="translate(1570.3 1664) rotate(60)"><text x="0" y="8" font-size="27" font-weight="bold" text-anchor="middle" fill="#000">herb</text></g>
<polygon points="1258.4,1498.5 1301.38,1522.95 1301.38,1571.85 1258.4,1596.3 1215.42,1571.85 1215.42,1522.95" fill="none" stroke="#7F7F7F" stroke-width="3" stroke-linejoin="miter"/>
<polygon points="1258.4,1449.6 1344.35,1498.5 1344.35,1596.3 1258.4,1645.2 1172.45,1596.3 1172.45,1498.5" fill="none" stroke="#7F7F7F" stroke-width="3" stroke-linejoin="miter"/>
<polygon points="1258.4,1400.7 1387.33,1474.05 1387.33,1620.75 1258.4,1694.1 1129.47,1620.75 1129.47,1474.05" fill="none" stroke="#7F7F7F" stroke-width="3" stroke-linejoin="miter"/>
<polygon points="1258.4,1351.8 1430.31,1449.6 1430.31,1645.2 1258.4,1743 1086.49,1645.2 1086.49,1449.6" fill="none" stroke="#7F7F7F" stroke-width="3" stroke-linejoin="miter"/>
<line x1="1258.4" y1="1547.4" x2="1258.4" y2="1351.8" stroke="#7F7F7F" stroke-width="3"/>
<line x1="1255" y1="1498.5" x2="1262" y2="1498.5" stroke="#7F7F7F" stroke-width="2.8"/>
<line x1="1255" y1="1449.6" x2="1262" y2="1449.6" stroke="#7F7F7F" stroke-width="2.8"/>
<line x1="1255" y1="1400.7" x2="1262" y2="1400.7" stroke="#7F7F7F" stroke-width="2.8"/>
<line x1="1255" y1="1351.8" x2="1262" y2="1351.8" stroke="#7F7F7F" stroke-width="2.8"/>
<line x1="1258.4" y1="1547.4" x2="1430.31" y2="1449.6" stroke="#7F7F7F" stroke-width="3"/>
<line x1="1299.68" y1="1520.01" x2="1303.18" y2="1526.07" stroke="#7F7F7F" stroke-width="2.8"/>
<line x1="1342.65" y1="1495.56" x2="1346.15" y2="1501.62" stroke="#7F7F7F" stroke-width="2.8"/>
<line x1="1385.63" y1="1471.11" x2="1389.13" y2="1477.17" stroke="#7F7F7F" stroke-width="2.8"/>
<line x1="1428.61" y1="1446.66" x2="1432.11" y2="1452.72" stroke="#7F7F7F" stroke-width="2.8"/>
<line x1="1258.4" y1="1547.4" x2="1430.31" y2="1645.2" stroke="#7F7F7F" stroke-width="3"/>
<line x1="1303.08" y1="1568.91" x2="1299.58" y2="1574.97" stroke="#7F7F7F" stroke-width="2.8"/>
<line x1="1346.05" y1="1593.36" x2="1342.55" y2="1599.42" stroke="#7F7F7F" stroke-width="2.8"/>
<line x1="1389.03" y1="1617.81" x2="1385.53" y2="1623.87" stroke="#7F7F7F" stroke-width="2.8"/>
<line x1="1432.01" y1="1642.26" x2="1428.51" y2="1648.32" stroke="#7F7F7F" stroke-width="2.8"/>
<line x1="1258.4" y1="1547.4" x2="1258.4" y2="1743" stroke="#7F7F7F" stroke-width="3"/>
<line x1="1261.8" y1="1596.3" x2="1254.8" y2="1596.3" stroke="#7F7F7F" stroke-width="2.8"/>
<line x1="1261.8" y1="1645.2" x2="1254.8" y2="1645.2" stroke="#7F7F7F" stroke-width="2.8"/>
<line x1="1261.8" y1="1694.1" x2="1254.8" y2="1694.1" stroke="#7F7F7F" stroke-width="2.8"/>
<line x1="1261.8" y1="1743" x2="1254.8" y2="1743" stroke="#7F7F7F" stroke-width="2.8"/>
<line x1="1258.4" y1="1547.4" x2="1086.49" y2="1645.2" stroke="#7F7F7F" stroke-width="3"/>
<line x1="1217.12" y1="1574.79" x2="1213.62" y2="1568.73" stroke="#7F7F7F" stroke-width="2.8"/>
<line x1="1174.15" y1="1599.24" x2="1170.65" y2="1593.18" stroke="#7F7F7F" stroke-width="2.8"/>
<line x1="1131.17" y1="1623.69" x2="1127.67" y2="1617.63" stroke="#7F7F7F" stroke-width="2.8"/>
<line x1="1088.19" y1="1648.14" x2="1084.69" y2="1642.08" stroke="#7F7F7F" stroke-width="2.8"/>
<line x1="1258.4" y1="1547.4" x2="1086.49" y2="1449.6" stroke="#7F7F7F" stroke-width="3"/>
<line x1="1213.72" y1="1525.89" x2="1217.22" y2="1519.83" stroke="#7F7F7F" stroke-width="2.8"/>
<line x1="1170.75" y1="1501.44" x2="1174.25" y2="1495.38" stroke="#7F7F7F" stroke-width="2.8"/>
<line x1="1127.77" y1="1476.99" x2="1131.27" y2="1470.93" stroke="#7F7F7F" stroke-width="2.8"/>
<line x1="1084.79" y1="1452.54" x2="1088.29" y2="1446.48" stroke="#7F7F7F" stroke-width="2.8"/>
<polygon points="1258.4,1374.69 1403.14,1465.05 1399.36,1627.6 1258.4,1716.99 1115.72,1628.57 1091.31,1452.34" fill="rgba(160,40,40,0.6)" stroke="rgba(235,80,95,0.8)" stroke-width="2" stroke-linejoin="round"/>
<text x="1255.7" y="1360" font-size="27" font-weight="bold" text-anchor="end" fill="#8B0000">1.00</text>
<text x="1255.7" y="1408.9" font-size="27" font-weight="bold" text-anchor="end" fill="#8B0000">0.75</text>
<text x="1255.7" y="1457.8" font-size="27" font-weight="bold" text-anchor="end" fill="#8B0000">0.50</text>
<text x="1255.7" y="1506.7" font-size="27" font-weight="bold" text-anchor="end" fill="#8B0000">0.25</text>
<text x="1255.7" y="1555.6" font-size="27" font-weight="bold" text-anchor="end" fill="#8B0000">0.00</text>
<polygon points="1258.4,1460.36 1325.1,1509.45 1311.35,1577.52 1258.4,1583.19 1234.33,1561.09 1252.21,1543.88" fill="rgba(4,150,4,0.5)" stroke="rgba(45,140,180,0.8)" stroke-width="2.2" stroke-linejoin="round"/>
<text x="1260.6" y="1358" font-size="27.2" font-weight="bold" fill="#000">(19.15 min)</text>
<text x="1262" y="1406.9" font-size="27.2" font-weight="bold" fill="#000">(14.4 min)</text>
<text x="1263.6" y="1455.8" font-size="27.2" font-weight="bold" fill="#000">(9.6 min)</text>
<text x="1264.2" y="1504.7" font-size="27.2" font-weight="bold" fill="#000">(4.8 min)</text>
<text x="1265" y="1553.6" font-size="27.2" font-weight="bold" fill="#000">(0 min)</text>
<text x="1258.4" y="1324.8" font-size="27.3" font-weight="bold" text-anchor="middle" fill="#000">fruit</text>
<text x="1258.4" y="1770.1" font-size="27" font-weight="bold" text-anchor="middle" fill="#000">bakery</text>
<g transform="translate(1074.4 1430.4) rotate(-60)"><text x="0" y="8" font-size="27" font-weight="bold" text-anchor="middle" fill="#000">others</text></g>
<g transform="translate(1449.4 1439.4) rotate(60)"><text x="0" y="8" font-size="27" font-weight="bold" text-anchor="middle" fill="#000">spices</text></g>
<g transform="translate(1453.9 1657.4) rotate(-60)"><text x="0" y="8" font-size="27" font-weight="bold" text-anchor="middle" fill="#000">drinks</text></g>
<g transform="translate(1067.9 1664.4) rotate(60)"><text x="0" y="8" font-size="27" font-weight="bold" text-anchor="middle" fill="#000">herb</text></g>
<polygon points="746.3,1498.5 789.28,1522.95 789.28,1571.85 746.3,1596.3 703.32,1571.85 703.32,1522.95" fill="none" stroke="#7F7F7F" stroke-width="3" stroke-linejoin="miter"/>
<polygon points="746.3,1449.6 832.25,1498.5 832.25,1596.3 746.3,1645.2 660.35,1596.3 660.35,1498.5" fill="none" stroke="#7F7F7F" stroke-width="3" stroke-linejoin="miter"/>
<polygon points="746.3,1400.7 875.23,1474.05 875.23,1620.75 746.3,1694.1 617.37,1620.75 617.37,1474.05" fill="none" stroke="#7F7F7F" stroke-width="3" stroke-linejoin="miter"/>
<polygon points="746.3,1351.8 918.21,1449.6 918.21,1645.2 746.3,1743 574.39,1645.2 574.39,1449.6" fill="none" stroke="#7F7F7F" stroke-width="3" stroke-linejoin="miter"/>
<line x1="746.3" y1="1547.4" x2="746.3" y2="1351.8" stroke="#7F7F7F" stroke-width="3"/>
<line x1="742.9" y1="1498.5" x2="749.9" y2="1498.5" stroke="#7F7F7F" stroke-width="2.8"/>
<line x1="742.9" y1="1449.6" x2="749.9" y2="1449.6" stroke="#7F7F7F" stroke-width="2.8"/>
<line x1="742.9" y1="1400.7" x2="749.9" y2="1400.7" stroke="#7F7F7F" stroke-width="2.8"/>
<line x1="742.9" y1="1351.8" x2="749.9" y2="1351.8" stroke="#7F7F7F" stroke-width="2.8"/>
<line x1="746.3" y1="1547.4" x2="918.21" y2="1449.6" stroke="#7F7F7F" stroke-width="3"/>
<line x1="787.58" y1="1520.01" x2="791.08" y2="1526.07" stroke="#7F7F7F" stroke-width="2.8"/>
<line x1="830.55" y1="1495.56" x2="834.05" y2="1501.62" stroke="#7F7F7F" stroke-width="2.8"/>
<line x1="873.53" y1="1471.11" x2="877.03" y2="1477.17" stroke="#7F7F7F" stroke-width="2.8"/>
<line x1="916.51" y1="1446.66" x2="920.01" y2="1452.72" stroke="#7F7F7F" stroke-width="2.8"/>
<line x1="746.3" y1="1547.4" x2="918.21" y2="1645.2" stroke="#7F7F7F" stroke-width="3"/>
<line x1="790.98" y1="1568.91" x2="787.48" y2="1574.97" stroke="#7F7F7F" stroke-width="2.8"/>
<line x1="833.95" y1="1593.36" x2="830.45" y2="1599.42" stroke="#7F7F7F" stroke-width="2.8"/>
<line x1="876.93" y1="1617.81" x2="873.43" y2="1623.87" stroke="#7F7F7F" stroke-width="2.8"/>
<line x1="919.91" y1="1642.26" x2="916.41" y2="1648.32" stroke="#7F7F7F" stroke-width="2.8"/>
<line x1="746.3" y1="1547.4" x2="746.3" y2="1743" stroke="#7F7F7F" stroke-width="3"/>
<line x1="749.7" y1="1596.3" x2="742.7" y2="1596.3" stroke="#7F7F7F" stroke-width="2.8"/>
<line x1="749.7" y1="1645.2" x2="742.7" y2="1645.2" stroke="#7F7F7F" stroke-width="2.8"/>
<line x1="749.7" y1="1694.1" x2="742.7" y2="1694.1" stroke="#7F7F7F" stroke-width="2.8"/>
<line x1="749.7" y1="1743" x2="742.7" y2="1743" stroke="#7F7F7F" stroke-width="2.8"/>
<line x1="746.3" y1="1547.4" x2="574.39" y2="1645.2" stroke="#7F7F7F" stroke-width="3"/>
<line x1="705.02" y1="1574.79" x2="701.52" y2="1568.73" stroke="#7F7F7F" stroke-width="2.8"/>
<line x1="662.05" y1="1599.24" x2="658.55" y2="1593.18" stroke="#7F7F7F" stroke-width="2.8"/>
<line x1="619.07" y1="1623.69" x2="615.57" y2="1617.63" stroke="#7F7F7F" stroke-width="2.8"/>
<line x1="576.09" y1="1648.14" x2="572.59" y2="1642.08" stroke="#7F7F7F" stroke-width="2.8"/>
<line x1="746.3" y1="1547.4" x2="574.39" y2="1449.6" stroke="#7F7F7F" stroke-width="3"/>
<line x1="701.62" y1="1525.89" x2="705.12" y2="1519.83" stroke="#7F7F7F" stroke-width="2.8"/>
<line x1="658.65" y1="1501.44" x2="662.15" y2="1495.38" stroke="#7F7F7F" stroke-width="2.8"/>
<line x1="615.67" y1="1476.99" x2="619.17" y2="1470.93" stroke="#7F7F7F" stroke-width="2.8"/>
<line x1="572.69" y1="1452.54" x2="576.19" y2="1446.48" stroke="#7F7F7F" stroke-width="2.8"/>
<polygon points="746.3,1370.97 897.23,1461.53 885.54,1626.62 746.3,1716.2 601.56,1629.75 579.21,1452.34" fill="rgba(160,40,40,0.6)" stroke="rgba(235,80,95,0.8)" stroke-width="2" stroke-linejoin="round"/>
<text x="743.6" y="1360" font-size="27" font-weight="bold" text-anchor="end" fill="#8B0000">1.00</text>
<text x="743.6" y="1408.9" font-size="27" font-weight="bold" text-anchor="end" fill="#8B0000">0.75</text>
<text x="743.6" y="1457.8" font-size="27" font-weight="bold" text-anchor="end" fill="#8B0000">0.50</text>
<text x="743.6" y="1506.7" font-size="27" font-weight="bold" text-anchor="end" fill="#8B0000">0.25</text>
<text x="743.6" y="1555.6" font-size="27" font-weight="bold" text-anchor="end" fill="#8B0000">0.00</text>
<polygon points="746.3,1485 792.37,1521.19 792.71,1573.81 746.3,1588.48 723.44,1560.41 740.11,1543.88" fill="rgba(4,150,4,0.5)" stroke="rgba(45,140,180,0.8)" stroke-width="2.2" stroke-linejoin="round"/>
<text x="748.5" y="1358" font-size="27.2" font-weight="bold" fill="#000">(19.15 min)</text>
<text x="749.9" y="1406.9" font-size="27.2" font-weight="bold" fill="#000">(14.4 min)</text>
<text x="751.5" y="1455.8" font-size="27.2" font-weight="bold" fill="#000">(9.6 min)</text>
<text x="752.1" y="1504.7" font-size="27.2" font-weight="bold" fill="#000">(4.8 min)</text>
<text x="752.9" y="1553.6" font-size="27.2" font-weight="bold" fill="#000">(0 min)</text>
<text x="746.3" y="1324.8" font-size="27.3" font-weight="bold" text-anchor="middle" fill="#000">fruit</text>
<text x="746.3" y="1770.1" font-size="27" font-weight="bold" text-anchor="middle" fill="#000">bakery</text>
<g transform="translate(562.3 1430.4) rotate(-60)"><text x="0" y="8" font-size="27" font-weight="bold" text-anchor="middle" fill="#000">others</text></g>
<g transform="translate(937.3 1439.4) rotate(60)"><text x="0" y="8" font-size="27" font-weight="bold" text-anchor="middle" fill="#000">spices</text></g>
<g transform="translate(941.8 1657.4) rotate(-60)"><text x="0" y="8" font-size="27" font-weight="bold" text-anchor="middle" fill="#000">drinks</text></g>
<g transform="translate(555.8 1664.4) rotate(60)"><text x="0" y="8" font-size="27" font-weight="bold" text-anchor="middle" fill="#000">herb</text></g>
<polygon points="468,974.5 510.5,974.5 510.5,946 553.3,1003.85 510.5,1061.7 510.5,1033 468,1033" fill="#FFC000" stroke="none" stroke-width="1"/>
<polygon points="968.6,974.5 1012.4,974.5 1012.4,946 1054.6,1003.85 1012.4,1061.7 1012.4,1033 968.6,1033" fill="#FFC000" stroke="none" stroke-width="1"/>
<polygon points="1465.4,973.8 1508.8,973.8 1508.8,945.2 1550.3,1003 1508.8,1060.8 1508.8,1031.6 1465.4,1031.6" fill="#FFC000" stroke="none" stroke-width="1"/>
<polygon points="1861.5,1233.3 1919.6,1233.3 1919.6,1276.5 1948.8,1276.5 1890.4,1318.4 1832,1276.5 1861.5,1276.5" fill="#FFC000" stroke="none" stroke-width="1"/>
<polygon points="1550.3,1516.8 1507.5,1516.8 1507.5,1487.6 1465.5,1545.4 1507.5,1603.2 1507.5,1574 1550.3,1574" fill="#FFC000" stroke="none" stroke-width="1"/>
<polygon points="1054.6,1515.6 1011.7,1515.6 1011.7,1487 969.5,1544.95 1011.7,1602.9 1011.7,1573.7 1054.6,1573.7" fill="#FFC000" stroke="none" stroke-width="1"/>
<text x="115" y="807.2" font-size="46" font-weight="bold" fill="#000">i</text>
<text x="629" y="806.2" font-size="46" font-weight="bold" fill="#000">ii</text>
<text x="1124.3" y="806" font-size="46" font-weight="bold" fill="#000">iii</text>
<text x="1622" y="806" font-size="46" font-weight="bold" fill="#000">iv</text>
<text x="1631.5" y="1347" font-size="46" font-weight="bold" fill="#000">v</text>
<text x="1127" y="1346.3" font-size="46" font-weight="bold" fill="#000">vi</text>
<text x="614.3" y="1346.3" font-size="46" font-weight="bold" fill="#000">vii</text>
<text x="25.5" y="1230" font-size="35.3" fill="#FFC000">First day</text>
<text x="486.8" y="1228.7" font-size="35.3" fill="#FFC000">Second day</text>
<text x="1031" y="1230.3" font-size="35.3" fill="#FFC000">Third day</text>
<text x="1534.9" y="1229.3" font-size="35.3" fill="#FFC000">Fourth day</text>
<text x="1534.9" y="1766.3" font-size="35.3" fill="#FFC000">Fifth day</text>
<text x="1028.2" y="1765.1" font-size="35.3" fill="#FFC000">Sixth day</text>
<text x="486.8" y="1765.1" font-size="35.3" fill="#FFC000">Seventh day</text>
<rect x="53.5" y="1290.5" width="64.3" height="31.3" fill="rgba(160,40,40,0.6)" stroke="rgba(235,80,95,0.85)" stroke-width="2.2"/>
<rect x="53.5" y="1337.7" width="64.3" height="31.3" fill="rgba(4,150,4,0.5)" stroke="rgba(60,150,200,0.9)" stroke-width="2.4"/>
<text x="128" y="1315.6" font-size="38.3" fill="#000">Recognition rate</text>
<text x="128.8" y="1362.8" font-size="38.4" fill="#000">Training time</text>
<text x="61.6" y="1443.4" font-size="35.55" fill="#000">Fruit odors number, 10</text>
<text x="61.6" y="1507.6" font-size="35.55" fill="#000">Spices odors number, 6</text>
<text x="61.6" y="1571" font-size="35.55" fill="#000">Drink odors number, 5</text>
<text x="61.6" y="1635" font-size="35.55" fill="#000">Bakery odors number, 5</text>
<text x="61.6" y="1698.7" font-size="35.55" fill="#000">Herb odors number, 3</text>
<text x="61.6" y="1762.6" font-size="35.55" fill="#000">Other odors number, 3</text>
<line x1="176.36" y1="2070.14" x2="283.64" y2="2001.87" stroke="#515151" stroke-width="5"/>
<line x1="302.06" y1="1991.89" x2="407.94" y2="1943.77" stroke="#515151" stroke-width="5"/>
<line x1="427.63" y1="1942.19" x2="532.37" y2="1970.75" stroke="#515151" stroke-width="5"/>
<line x1="552.37" y1="1969.92" x2="657.63" y2="1931.65" stroke="#515151" stroke-width="5"/>
<line x1="677.96" y1="1927.11" x2="782.04" y2="1917.65" stroke="#515151" stroke-width="5"/>
<line x1="802.83" y1="1918.58" x2="907.17" y2="1937.55" stroke="#515151" stroke-width="5"/>
<rect x="159.7" y="2067.97" width="15.6" height="15.6" fill="#515151" stroke="none" stroke-width="1"/>
<rect x="284.7" y="1988.44" width="15.6" height="15.6" fill="#515151" stroke="none" stroke-width="1"/>
<rect x="409.7" y="1931.63" width="15.6" height="15.6" fill="#515151" stroke="none" stroke-width="1"/>
<rect x="534.7" y="1965.71" width="15.6" height="15.6" fill="#515151" stroke="none" stroke-width="1"/>
<rect x="659.7" y="1920.26" width="15.6" height="15.6" fill="#515151" stroke="none" stroke-width="1"/>
<rect x="784.7" y="1908.9" width="15.6" height="15.6" fill="#515151" stroke="none" stroke-width="1"/>
<rect x="909.7" y="1931.63" width="15.6" height="15.6" fill="#515151" stroke="none" stroke-width="1"/>
<line x1="177.83" y1="2123.1" x2="282.17" y2="2142.07" stroke="#F14040" stroke-width="5"/>
<line x1="301.72" y1="2138.92" x2="408.28" y2="2080.8" stroke="#F14040" stroke-width="5"/>
<line x1="427.63" y1="2073.01" x2="532.37" y2="2044.45" stroke="#F14040" stroke-width="5"/>
<line x1="552.63" y1="2044.45" x2="657.37" y2="2073.01" stroke="#F14040" stroke-width="5"/>
<line x1="677.63" y1="2073.01" x2="782.37" y2="2044.45" stroke="#F14040" stroke-width="5"/>
<line x1="802.96" y1="2042.64" x2="907.04" y2="2052.1" stroke="#F14040" stroke-width="5"/>
<circle cx="167.5" cy="2121.23" r="8.6" fill="#F14040" stroke="none" stroke-width="1"/>
<circle cx="292.5" cy="2143.95" r="8.6" fill="#F14040" stroke="none" stroke-width="1"/>
<circle cx="417.5" cy="2075.78" r="8.6" fill="#F14040" stroke="none" stroke-width="1"/>
<circle cx="542.5" cy="2041.69" r="8.6" fill="#F14040" stroke="none" stroke-width="1"/>
<circle cx="667.5" cy="2075.78" r="8.6" fill="#F14040" stroke="none" stroke-width="1"/>
<circle cx="792.5" cy="2041.69" r="8.6" fill="#F14040" stroke="none" stroke-width="1"/>
<circle cx="917.5" cy="2053.05" r="8.6" fill="#F14040" stroke="none" stroke-width="1"/>
<line x1="177.83" y1="2017.08" x2="282.17" y2="1998.12" stroke="#1A6FDF" stroke-width="5"/>
<line x1="302.96" y1="1995.29" x2="407.04" y2="1985.83" stroke="#1A6FDF" stroke-width="5"/>
<line x1="427.63" y1="1987.64" x2="532.37" y2="2016.2" stroke="#1A6FDF" stroke-width="5"/>
<line x1="553" y1="2018.96" x2="657" y2="2018.96" stroke="#1A6FDF" stroke-width="5"/>
<line x1="677.63" y1="2016.2" x2="782.37" y2="1987.64" stroke="#1A6FDF" stroke-width="5"/>
<line x1="802.83" y1="1983" x2="907.17" y2="1964.03" stroke="#1A6FDF" stroke-width="5"/>
<polygon points="167.5,2008.4 177.7,2026 157.3,2026" fill="#1A6FDF" stroke="none" stroke-width="1"/>
<polygon points="292.5,1985.68 302.7,2003.28 282.3,2003.28" fill="#1A6FDF" stroke="none" stroke-width="1"/>
<polygon points="417.5,1974.32 427.7,1991.92 407.3,1991.92" fill="#1A6FDF" stroke="none" stroke-width="1"/>
<polygon points="542.5,2008.4 552.7,2026 532.3,2026" fill="#1A6FDF" stroke="none" stroke-width="1"/>
<polygon points="667.5,2008.4 677.7,2026 657.3,2026" fill="#1A6FDF" stroke="none" stroke-width="1"/>
<polygon points="792.5,1974.32 802.7,1991.92 782.3,1991.92" fill="#1A6FDF" stroke="none" stroke-width="1"/>
<polygon points="917.5,1951.59 927.7,1969.19 907.3,1969.19" fill="#1A6FDF" stroke="none" stroke-width="1"/>
<line x1="174.92" y1="2113.8" x2="285.08" y2="2003.66" stroke="#37AD6B" stroke-width="5"/>
<line x1="299.92" y1="2003.66" x2="410.08" y2="2113.8" stroke="#37AD6B" stroke-width="5"/>
<line x1="423.71" y1="2112.76" x2="536.29" y2="1959.25" stroke="#37AD6B" stroke-width="5"/>
<line x1="552.96" y1="1949.84" x2="657.04" y2="1940.38" stroke="#37AD6B" stroke-width="5"/>
<line x1="677.51" y1="1942.61" x2="782.49" y2="1976.01" stroke="#37AD6B" stroke-width="5"/>
<line x1="802.9" y1="1977.78" x2="907.1" y2="1963.57" stroke="#37AD6B" stroke-width="5"/>
<polygon points="167.5,2131.79 177.7,2114.19 157.3,2114.19" fill="#37AD6B" stroke="none" stroke-width="1"/>
<polygon points="292.5,2006.8 302.7,1989.2 282.3,1989.2" fill="#37AD6B" stroke="none" stroke-width="1"/>
<polygon points="417.5,2131.79 427.7,2114.19 407.3,2114.19" fill="#37AD6B" stroke="none" stroke-width="1"/>
<polygon points="542.5,1961.35 552.7,1943.75 532.3,1943.75" fill="#37AD6B" stroke="none" stroke-width="1"/>
<polygon points="667.5,1949.99 677.7,1932.39 657.3,1932.39" fill="#37AD6B" stroke="none" stroke-width="1"/>
<polygon points="792.5,1989.75 802.7,1972.15 782.3,1972.15" fill="#37AD6B" stroke="none" stroke-width="1"/>
<polygon points="917.5,1972.71 927.7,1955.11 907.3,1955.11" fill="#37AD6B" stroke="none" stroke-width="1"/>
<line x1="176.36" y1="2104.23" x2="283.64" y2="2035.96" stroke="#B177DE" stroke-width="5"/>
<line x1="302.37" y1="2033.91" x2="407.63" y2="2072.19" stroke="#B177DE" stroke-width="5"/>
<line x1="426.72" y1="2070.75" x2="533.28" y2="2012.63" stroke="#B177DE" stroke-width="5"/>
<line x1="552.63" y1="2004.84" x2="657.37" y2="1976.27" stroke="#B177DE" stroke-width="5"/>
<line x1="677.96" y1="1974.46" x2="782.04" y2="1983.92" stroke="#B177DE" stroke-width="5"/>
<line x1="802.96" y1="1983.92" x2="907.04" y2="1974.46" stroke="#B177DE" stroke-width="5"/>
<polygon points="167.5,2099.66 176.3,2109.86 167.5,2120.06 158.7,2109.86" fill="#B177DE" stroke="none" stroke-width="1"/>
<polygon points="292.5,2020.13 301.3,2030.33 292.5,2040.53 283.7,2030.33" fill="#B177DE" stroke="none" stroke-width="1"/>
<polygon points="417.5,2065.58 426.3,2075.78 417.5,2085.97 408.7,2075.78" fill="#B177DE" stroke="none" stroke-width="1"/>
<polygon points="542.5,1997.4 551.3,2007.6 542.5,2017.8 533.7,2007.6" fill="#B177DE" stroke="none" stroke-width="1"/>
<polygon points="667.5,1963.31 676.3,1973.51 667.5,1983.71 658.7,1973.51" fill="#B177DE" stroke="none" stroke-width="1"/>
<polygon points="792.5,1974.68 801.3,1984.88 792.5,1995.08 783.7,1984.88" fill="#B177DE" stroke="none" stroke-width="1"/>
<polygon points="917.5,1963.31 926.3,1973.51 917.5,1983.71 908.7,1973.51" fill="#B177DE" stroke="none" stroke-width="1"/>
<line x1="175.99" y1="2160.5" x2="284.01" y2="2081.95" stroke="#CC9900" stroke-width="5"/>
<line x1="302.63" y1="2073.01" x2="407.37" y2="2044.45" stroke="#CC9900" stroke-width="5"/>
<line x1="427.37" y1="2045.28" x2="532.63" y2="2083.55" stroke="#CC9900" stroke-width="5"/>
<line x1="552.96" y1="2086.19" x2="657.04" y2="2076.73" stroke="#CC9900" stroke-width="5"/>
<line x1="675.63" y1="2069.13" x2="784.37" y2="1980.16" stroke="#CC9900" stroke-width="5"/>
<line x1="802.83" y1="1975.39" x2="907.17" y2="1994.36" stroke="#CC9900" stroke-width="5"/>
<polygon points="156.94,2166.68 174.54,2156.48 174.54,2176.88" fill="#CC9900" stroke="none" stroke-width="1"/>
<polygon points="281.94,2075.78 299.54,2065.58 299.54,2085.97" fill="#CC9900" stroke="none" stroke-width="1"/>
<polygon points="406.94,2041.69 424.54,2031.49 424.54,2051.89" fill="#CC9900" stroke="none" stroke-width="1"/>
<polygon points="531.94,2087.14 549.54,2076.94 549.54,2097.34" fill="#CC9900" stroke="none" stroke-width="1"/>
<polygon points="656.94,2075.78 674.54,2065.58 674.54,2085.97" fill="#CC9900" stroke="none" stroke-width="1"/>
<polygon points="781.94,1973.51 799.54,1963.31 799.54,1983.71" fill="#CC9900" stroke="none" stroke-width="1"/>
<polygon points="906.94,1996.24 924.54,1986.04 924.54,2006.44" fill="#CC9900" stroke="none" stroke-width="1"/>
<line x1="176.72" y1="2092.17" x2="283.28" y2="2150.28" stroke="#00CBCC" stroke-width="5"/>
<line x1="301.36" y1="2149.68" x2="408.64" y2="2081.41" stroke="#00CBCC" stroke-width="5"/>
<line x1="427.63" y1="2078.54" x2="532.37" y2="2107.1" stroke="#00CBCC" stroke-width="5"/>
<line x1="550.63" y1="2103.21" x2="659.37" y2="2014.25" stroke="#00CBCC" stroke-width="5"/>
<line x1="677.63" y1="2004.84" x2="782.37" y2="1976.27" stroke="#00CBCC" stroke-width="5"/>
<line x1="802.96" y1="1972.56" x2="907.04" y2="1963.1" stroke="#00CBCC" stroke-width="5"/>
<polygon points="178.06,2087.14 160.46,2076.94 160.46,2097.34" fill="#00CBCC" stroke="none" stroke-width="1"/>
<polygon points="303.06,2155.31 285.46,2145.11 285.46,2165.51" fill="#00CBCC" stroke="none" stroke-width="1"/>
<polygon points="428.06,2075.78 410.46,2065.58 410.46,2085.97" fill="#00CBCC" stroke="none" stroke-width="1"/>
<polygon points="553.06,2109.86 535.46,2099.66 535.46,2120.06" fill="#00CBCC" stroke="none" stroke-width="1"/>
<polygon points="678.06,2007.6 660.46,1997.4 660.46,2017.8" fill="#00CBCC" stroke="none" stroke-width="1"/>
<polygon points="803.06,1973.51 785.46,1963.31 785.46,1983.71" fill="#00CBCC" stroke="none" stroke-width="1"/>
<polygon points="928.06,1962.15 910.46,1951.95 910.46,1972.35" fill="#00CBCC" stroke="none" stroke-width="1"/>
<line x1="177.83" y1="2107.98" x2="282.17" y2="2089.02" stroke="#7D4E4E" stroke-width="5"/>
<line x1="302.06" y1="2082.79" x2="407.94" y2="2034.67" stroke="#7D4E4E" stroke-width="5"/>
<line x1="427.63" y1="2027.56" x2="532.37" y2="1999" stroke="#7D4E4E" stroke-width="5"/>
<line x1="552.63" y1="1993.48" x2="657.37" y2="1964.91" stroke="#7D4E4E" stroke-width="5"/>
<line x1="677.96" y1="1961.2" x2="782.04" y2="1951.74" stroke="#7D4E4E" stroke-width="5"/>
<line x1="802.83" y1="1948.91" x2="907.17" y2="1929.94" stroke="#7D4E4E" stroke-width="5"/>
<polygon points="167.5,2099.96 176.07,2104.91 176.07,2114.81 167.5,2119.76 158.93,2114.81 158.93,2104.91" fill="#7D4E4E" stroke="none" stroke-width="1"/>
<polygon points="292.5,2077.24 301.07,2082.19 301.07,2092.09 292.5,2097.04 283.93,2092.09 283.93,2082.19" fill="#7D4E4E" stroke="none" stroke-width="1"/>
<polygon points="417.5,2020.43 426.07,2025.38 426.07,2035.28 417.5,2040.23 408.93,2035.28 408.93,2025.38" fill="#7D4E4E" stroke="none" stroke-width="1"/>
<polygon points="542.5,1986.34 551.07,1991.29 551.07,2001.19 542.5,2006.14 533.93,2001.19 533.93,1991.29" fill="#7D4E4E" stroke="none" stroke-width="1"/>
<polygon points="667.5,1952.25 676.07,1957.2 676.07,1967.1 667.5,1972.05 658.93,1967.1 658.93,1957.2" fill="#7D4E4E" stroke="none" stroke-width="1"/>
<polygon points="792.5,1940.89 801.07,1945.84 801.07,1955.74 792.5,1960.69 783.93,1955.74 783.93,1945.84" fill="#7D4E4E" stroke="none" stroke-width="1"/>
<polygon points="917.5,1918.16 926.07,1923.11 926.07,1933.01 917.5,1937.96 908.93,1933.01 908.93,1923.11" fill="#7D4E4E" stroke="none" stroke-width="1"/>
<line x1="176.72" y1="2104.83" x2="283.28" y2="2046.72" stroke="#8E8E00" stroke-width="5"/>
<line x1="301.36" y1="2036.05" x2="408.64" y2="1967.79" stroke="#8E8E00" stroke-width="5"/>
<line x1="427.63" y1="1959.39" x2="532.37" y2="1930.82" stroke="#8E8E00" stroke-width="5"/>
<line x1="553" y1="1928.06" x2="657" y2="1928.06" stroke="#8E8E00" stroke-width="5"/>
<line x1="678" y1="1928.06" x2="782" y2="1928.06" stroke="#8E8E00" stroke-width="5"/>
<line x1="803" y1="1928.06" x2="907" y2="1928.06" stroke="#8E8E00" stroke-width="5"/>
<polygon points="167.5,2099.06 170.03,2106.38 177.77,2106.53 171.59,2111.19 173.85,2118.6 167.5,2114.16 161.15,2118.6 163.41,2111.19 157.23,2106.53 164.97,2106.38" fill="#8E8E00" stroke="none" stroke-width="1"/>
<polygon points="292.5,2030.89 295.03,2038.21 302.77,2038.35 296.59,2043.02 298.85,2050.42 292.5,2045.99 286.15,2050.42 288.41,2043.02 282.23,2038.35 289.97,2038.21" fill="#8E8E00" stroke="none" stroke-width="1"/>
<polygon points="417.5,1951.35 420.03,1958.67 427.77,1958.81 421.59,1963.48 423.85,1970.89 417.5,1966.45 411.15,1970.89 413.41,1963.48 407.23,1958.81 414.97,1958.67" fill="#8E8E00" stroke="none" stroke-width="1"/>
<polygon points="542.5,1917.26 545.03,1924.58 552.77,1924.73 546.59,1929.39 548.85,1936.8 542.5,1932.36 536.15,1936.8 538.41,1929.39 532.23,1924.73 539.97,1924.58" fill="#8E8E00" stroke="none" stroke-width="1"/>
<polygon points="667.5,1917.26 670.03,1924.58 677.77,1924.73 671.59,1929.39 673.85,1936.8 667.5,1932.36 661.15,1936.8 663.41,1929.39 657.23,1924.73 664.97,1924.58" fill="#8E8E00" stroke="none" stroke-width="1"/>
<polygon points="792.5,1917.26 795.03,1924.58 802.77,1924.73 796.59,1929.39 798.85,1936.8 792.5,1932.36 786.15,1936.8 788.41,1929.39 782.23,1924.73 789.97,1924.58" fill="#8E8E00" stroke="none" stroke-width="1"/>
<polygon points="917.5,1917.26 920.03,1924.58 927.77,1924.73 921.59,1929.39 923.85,1936.8 917.5,1932.36 911.15,1936.8 913.41,1929.39 907.23,1924.73 914.97,1924.58" fill="#8E8E00" stroke="none" stroke-width="1"/>
<line x1="177.37" y1="2094.91" x2="282.63" y2="2056.64" stroke="#FB6501" stroke-width="5"/>
<line x1="302.96" y1="2052.1" x2="407.04" y2="2042.64" stroke="#FB6501" stroke-width="5"/>
<line x1="427.06" y1="2037.34" x2="532.94" y2="1989.22" stroke="#FB6501" stroke-width="5"/>
<line x1="552.96" y1="1983.92" x2="657.04" y2="1974.46" stroke="#FB6501" stroke-width="5"/>
<line x1="677.63" y1="1970.75" x2="782.37" y2="1942.19" stroke="#FB6501" stroke-width="5"/>
<line x1="803" y1="1939.43" x2="907" y2="1939.43" stroke="#FB6501" stroke-width="5"/>
<polygon points="167.5,2088.9 177.2,2095.95 173.5,2107.35 161.5,2107.35 157.8,2095.95" fill="#FB6501" stroke="none" stroke-width="1"/>
<polygon points="292.5,2043.45 302.2,2050.5 298.5,2061.9 286.5,2061.9 282.8,2050.5" fill="#FB6501" stroke="none" stroke-width="1"/>
<polygon points="417.5,2032.09 427.2,2039.14 423.5,2050.54 411.5,2050.54 407.8,2039.14" fill="#FB6501" stroke="none" stroke-width="1"/>
<polygon points="542.5,1975.28 552.2,1982.32 548.5,1993.73 536.5,1993.73 532.8,1982.32" fill="#FB6501" stroke="none" stroke-width="1"/>
<polygon points="667.5,1963.91 677.2,1970.96 673.5,1982.36 661.5,1982.36 657.8,1970.96" fill="#FB6501" stroke="none" stroke-width="1"/>
<polygon points="792.5,1929.83 802.2,1936.87 798.5,1948.28 786.5,1948.28 782.8,1936.87" fill="#FB6501" stroke="none" stroke-width="1"/>
<polygon points="917.5,1929.83 927.2,1936.87 923.5,1948.28 911.5,1948.28 907.8,1936.87" fill="#FB6501" stroke="none" stroke-width="1"/>
<line x1="270.1" y1="2212.8" x2="300.1" y2="2212.8" stroke="#515151" stroke-width="4.3"/>
<line x1="320.1" y1="2212.8" x2="350.1" y2="2212.8" stroke="#515151" stroke-width="4.3"/>
<rect x="302.3" y="2205" width="15.6" height="15.6" fill="#515151" stroke="none" stroke-width="1"/>
<text x="358.1" y="2224.4" font-size="32.3" fill="#000">V1</text>
<line x1="406.43" y1="2212.8" x2="436.43" y2="2212.8" stroke="#F14040" stroke-width="4.3"/>
<line x1="456.43" y1="2212.8" x2="486.43" y2="2212.8" stroke="#F14040" stroke-width="4.3"/>
<circle cx="446.43" cy="2212.8" r="8.6" fill="#F14040" stroke="none" stroke-width="1"/>
<text x="494.43" y="2224.4" font-size="32.3" fill="#000">V2</text>
<line x1="542.76" y1="2212.8" x2="572.76" y2="2212.8" stroke="#1A6FDF" stroke-width="4.3"/>
<line x1="592.76" y1="2212.8" x2="622.76" y2="2212.8" stroke="#1A6FDF" stroke-width="4.3"/>
<polygon points="582.76,2202.24 592.96,2219.84 572.56,2219.84" fill="#1A6FDF" stroke="none" stroke-width="1"/>
<text x="630.76" y="2224.4" font-size="32.3" fill="#000">V3</text>
<line x1="679.09" y1="2212.8" x2="709.09" y2="2212.8" stroke="#37AD6B" stroke-width="4.3"/>
<line x1="729.09" y1="2212.8" x2="759.09" y2="2212.8" stroke="#37AD6B" stroke-width="4.3"/>
<polygon points="719.09,2223.36 729.29,2205.76 708.89,2205.76" fill="#37AD6B" stroke="none" stroke-width="1"/>
<text x="767.09" y="2224.4" font-size="32.3" fill="#000">V4</text>
<line x1="815.42" y1="2212.8" x2="845.42" y2="2212.8" stroke="#B177DE" stroke-width="4.3"/>
<line x1="865.42" y1="2212.8" x2="895.42" y2="2212.8" stroke="#B177DE" stroke-width="4.3"/>
<polygon points="855.42,2202.6 864.22,2212.8 855.42,2223 846.62,2212.8" fill="#B177DE" stroke="none" stroke-width="1"/>
<text x="903.42" y="2224.4" font-size="32.3" fill="#000">V5</text>
<line x1="270.1" y1="2255.2" x2="300.1" y2="2255.2" stroke="#CC9900" stroke-width="4.3"/>
<line x1="320.1" y1="2255.2" x2="350.1" y2="2255.2" stroke="#CC9900" stroke-width="4.3"/>
<polygon points="299.54,2255.2 317.14,2245 317.14,2265.4" fill="#CC9900" stroke="none" stroke-width="1"/>
<text x="358.1" y="2266.8" font-size="32.3" fill="#000">V6</text>
<line x1="406.43" y1="2255.2" x2="436.43" y2="2255.2" stroke="#00CBCC" stroke-width="4.3"/>
<line x1="456.43" y1="2255.2" x2="486.43" y2="2255.2" stroke="#00CBCC" stroke-width="4.3"/>
<polygon points="456.99,2255.2 439.39,2245 439.39,2265.4" fill="#00CBCC" stroke="none" stroke-width="1"/>
<text x="494.43" y="2266.8" font-size="32.3" fill="#000">V7</text>
<line x1="542.76" y1="2255.2" x2="572.76" y2="2255.2" stroke="#7D4E4E" stroke-width="4.3"/>
<line x1="592.76" y1="2255.2" x2="622.76" y2="2255.2" stroke="#7D4E4E" stroke-width="4.3"/>
<polygon points="582.76,2245.3 591.33,2250.25 591.33,2260.15 582.76,2265.1 574.19,2260.15 574.19,2250.25" fill="#7D4E4E" stroke="none" stroke-width="1"/>
<text x="630.76" y="2266.8" font-size="32.3" fill="#000">V8</text>
<line x1="679.09" y1="2255.2" x2="709.09" y2="2255.2" stroke="#8E8E00" stroke-width="4.3"/>
<line x1="729.09" y1="2255.2" x2="759.09" y2="2255.2" stroke="#8E8E00" stroke-width="4.3"/>
<polygon points="719.09,2244.4 721.62,2251.72 729.36,2251.86 723.18,2256.53 725.44,2263.94 719.09,2259.5 712.74,2263.94 715,2256.53 708.82,2251.86 716.56,2251.72" fill="#8E8E00" stroke="none" stroke-width="1"/>
<text x="767.09" y="2266.8" font-size="32.3" fill="#000">V9</text>
<line x1="815.42" y1="2255.2" x2="845.42" y2="2255.2" stroke="#FB6501" stroke-width="4.3"/>
<line x1="865.42" y1="2255.2" x2="895.42" y2="2255.2" stroke="#FB6501" stroke-width="4.3"/>
<polygon points="855.42,2245.6 865.12,2252.65 861.42,2264.05 849.42,2264.05 845.72,2252.65" fill="#FB6501" stroke="none" stroke-width="1"/>
<text x="903.42" y="2266.8" font-size="32.3" fill="#000">V10</text>
<rect x="104.7" y="1880.8" width="875.3" height="399.5" fill="none" stroke="#000" stroke-width="4.8"/>
<line x1="167.5" y1="2280.3" x2="167.5" y2="2271.3" stroke="#000" stroke-width="4.4"/>
<line x1="230" y1="2280.3" x2="230" y2="2275.3" stroke="#000" stroke-width="4.4"/>
<text x="167.5" y="2315.6" font-size="33.2" font-weight="bold" text-anchor="middle" fill="#000">1</text>
<line x1="292.5" y1="2280.3" x2="292.5" y2="2271.3" stroke="#000" stroke-width="4.4"/>
<line x1="355" y1="2280.3" x2="355" y2="2275.3" stroke="#000" stroke-width="4.4"/>
<text x="292.5" y="2315.6" font-size="33.2" font-weight="bold" text-anchor="middle" fill="#000">2</text>
<line x1="417.5" y1="2280.3" x2="417.5" y2="2271.3" stroke="#000" stroke-width="4.4"/>
<line x1="480" y1="2280.3" x2="480" y2="2275.3" stroke="#000" stroke-width="4.4"/>
<text x="417.5" y="2315.6" font-size="33.2" font-weight="bold" text-anchor="middle" fill="#000">3</text>
<line x1="542.5" y1="2280.3" x2="542.5" y2="2271.3" stroke="#000" stroke-width="4.4"/>
<line x1="605" y1="2280.3" x2="605" y2="2275.3" stroke="#000" stroke-width="4.4"/>
<text x="542.5" y="2315.6" font-size="33.2" font-weight="bold" text-anchor="middle" fill="#000">4</text>
<line x1="667.5" y1="2280.3" x2="667.5" y2="2271.3" stroke="#000" stroke-width="4.4"/>
<line x1="730" y1="2280.3" x2="730" y2="2275.3" stroke="#000" stroke-width="4.4"/>
<text x="667.5" y="2315.6" font-size="33.2" font-weight="bold" text-anchor="middle" fill="#000">5</text>
<line x1="792.5" y1="2280.3" x2="792.5" y2="2271.3" stroke="#000" stroke-width="4.4"/>
<line x1="855" y1="2280.3" x2="855" y2="2275.3" stroke="#000" stroke-width="4.4"/>
<text x="792.5" y="2315.6" font-size="33.2" font-weight="bold" text-anchor="middle" fill="#000">6</text>
<line x1="917.5" y1="2280.3" x2="917.5" y2="2271.3" stroke="#000" stroke-width="4.4"/>
<text x="917.5" y="2315.6" font-size="33.2" font-weight="bold" text-anchor="middle" fill="#000">7</text>
<line x1="104.7" y1="2280.3" x2="113.7" y2="2280.3" stroke="#000" stroke-width="4.4"/>
<text x="94.6" y="2292.2" font-size="33.2" font-weight="bold" text-anchor="end" fill="#000">0.0</text>
<line x1="104.7" y1="2171.22" x2="113.7" y2="2171.22" stroke="#000" stroke-width="4.4"/>
<text x="94.6" y="2183.12" font-size="33.2" font-weight="bold" text-anchor="end" fill="#000">0.3</text>
<line x1="104.7" y1="2062.14" x2="113.7" y2="2062.14" stroke="#000" stroke-width="4.4"/>
<text x="94.6" y="2074.04" font-size="33.2" font-weight="bold" text-anchor="end" fill="#000">0.6</text>
<line x1="104.7" y1="1953.06" x2="113.7" y2="1953.06" stroke="#000" stroke-width="4.4"/>
<text x="94.6" y="1964.96" font-size="33.2" font-weight="bold" text-anchor="end" fill="#000">0.9</text>
<line x1="104.7" y1="2225.76" x2="109.7" y2="2225.76" stroke="#000" stroke-width="4.4"/>
<line x1="104.7" y1="2116.68" x2="109.7" y2="2116.68" stroke="#000" stroke-width="4.4"/>
<line x1="104.7" y1="2007.6" x2="109.7" y2="2007.6" stroke="#000" stroke-width="4.4"/>
<line x1="104.7" y1="1898.52" x2="109.7" y2="1898.52" stroke="#000" stroke-width="4.4"/>
<text x="542.6" y="2345.3" font-size="33.8" font-weight="bold" text-anchor="middle" fill="#000">Training times</text>
<text x="37" y="2080.4" font-size="33.7" font-weight="bold" text-anchor="middle" fill="#000" transform="rotate(-90 37 2080.4)">Recognition rate</text>
<text x="9.2" y="1875.8" font-size="48" font-weight="bold" fill="#000">c</text>
<line x1="1136.6" y1="1905.4" x2="1166.6" y2="1905.4" stroke="#515151" stroke-width="4.3"/>
<line x1="1186.6" y1="1905.4" x2="1216.6" y2="1905.4" stroke="#515151" stroke-width="4.3"/>
<rect x="1168.33" y="1897.13" width="16.54" height="16.54" fill="#515151" stroke="#fff" stroke-width="1.4"/>
<text x="1224.6" y="1917" font-size="32.3" fill="#000">V1</text>
<line x1="1272.93" y1="1905.4" x2="1302.93" y2="1905.4" stroke="#F14040" stroke-width="4.3"/>
<line x1="1322.93" y1="1905.4" x2="1352.93" y2="1905.4" stroke="#F14040" stroke-width="4.3"/>
<circle cx="1312.93" cy="1905.4" r="9.12" fill="#F14040" stroke="#fff" stroke-width="1.4"/>
<text x="1360.93" y="1917" font-size="32.3" fill="#000">V2</text>
<line x1="1409.26" y1="1905.4" x2="1439.26" y2="1905.4" stroke="#1A6FDF" stroke-width="4.3"/>
<line x1="1459.26" y1="1905.4" x2="1489.26" y2="1905.4" stroke="#1A6FDF" stroke-width="4.3"/>
<polygon points="1449.26,1894.21 1460.07,1912.86 1438.45,1912.86" fill="#1A6FDF" stroke="#fff" stroke-width="1.4"/>
<text x="1497.26" y="1917" font-size="32.3" fill="#000">V3</text>
<line x1="1545.59" y1="1905.4" x2="1575.59" y2="1905.4" stroke="#37AD6B" stroke-width="4.3"/>
<line x1="1595.59" y1="1905.4" x2="1625.59" y2="1905.4" stroke="#37AD6B" stroke-width="4.3"/>
<polygon points="1585.59,1916.59 1596.4,1897.94 1574.78,1897.94" fill="#37AD6B" stroke="#fff" stroke-width="1.4"/>
<text x="1633.59" y="1917" font-size="32.3" fill="#000">V4</text>
<line x1="1681.92" y1="1905.4" x2="1711.92" y2="1905.4" stroke="#B177DE" stroke-width="4.3"/>
<line x1="1731.92" y1="1905.4" x2="1761.92" y2="1905.4" stroke="#B177DE" stroke-width="4.3"/>
<polygon points="1721.92,1894.59 1731.25,1905.4 1721.92,1916.21 1712.59,1905.4" fill="#B177DE" stroke="#fff" stroke-width="1.4"/>
<text x="1769.92" y="1917" font-size="32.3" fill="#000">V5</text>
<line x1="1136.6" y1="1947.5" x2="1166.6" y2="1947.5" stroke="#CC9900" stroke-width="4.3"/>
<line x1="1186.6" y1="1947.5" x2="1216.6" y2="1947.5" stroke="#CC9900" stroke-width="4.3"/>
<polygon points="1165.41,1947.5 1184.06,1936.69 1184.06,1958.31" fill="#CC9900" stroke="#fff" stroke-width="1.4"/>
<text x="1224.6" y="1959.1" font-size="32.3" fill="#000">V6</text>
<line x1="1272.93" y1="1947.5" x2="1302.93" y2="1947.5" stroke="#00CBCC" stroke-width="4.3"/>
<line x1="1322.93" y1="1947.5" x2="1352.93" y2="1947.5" stroke="#00CBCC" stroke-width="4.3"/>
<polygon points="1324.12,1947.5 1305.47,1936.69 1305.47,1958.31" fill="#00CBCC" stroke="#fff" stroke-width="1.4"/>
<text x="1360.93" y="1959.1" font-size="32.3" fill="#000">V7</text>
<line x1="1409.26" y1="1947.5" x2="1439.26" y2="1947.5" stroke="#7D4E4E" stroke-width="4.3"/>
<line x1="1459.26" y1="1947.5" x2="1489.26" y2="1947.5" stroke="#7D4E4E" stroke-width="4.3"/>
<polygon points="1449.26,1937.01 1458.35,1942.25 1458.35,1952.75 1449.26,1957.99 1440.17,1952.75 1440.17,1942.25" fill="#7D4E4E" stroke="#fff" stroke-width="1.4"/>
<text x="1497.26" y="1959.1" font-size="32.3" fill="#000">V8</text>
<line x1="1545.59" y1="1947.5" x2="1575.59" y2="1947.5" stroke="#8E8E00" stroke-width="4.3"/>
<line x1="1595.59" y1="1947.5" x2="1625.59" y2="1947.5" stroke="#8E8E00" stroke-width="4.3"/>
<polygon points="1585.59,1936.05 1588.27,1943.81 1596.48,1943.96 1589.92,1948.91 1592.32,1956.76 1585.59,1952.06 1578.86,1956.76 1581.26,1948.91 1574.7,1943.96 1582.91,1943.81" fill="#8E8E00" stroke="#fff" stroke-width="1.4"/>
<text x="1633.59" y="1959.1" font-size="32.3" fill="#000">V9</text>
<line x1="1681.92" y1="1947.5" x2="1711.92" y2="1947.5" stroke="#FB6501" stroke-width="4.3"/>
<line x1="1731.92" y1="1947.5" x2="1761.92" y2="1947.5" stroke="#FB6501" stroke-width="4.3"/>
<polygon points="1721.92,1937.29 1732.2,1944.76 1728.28,1956.85 1715.56,1956.85 1711.64,1944.76" fill="#FB6501" stroke="#fff" stroke-width="1.4"/>
<text x="1769.92" y="1959.1" font-size="32.3" fill="#000">V10</text>
<polyline points="1186.6,1980.72 1311.75,1980.72 1436.9,1980.72 1562.05,2065.6 1687.2,2155.48 1812.35,2175.45 1937.5,2210.4" fill="none" stroke="#515151" stroke-width="4.1" stroke-linejoin="round"/>
<rect x="1178.33" y="1972.45" width="16.54" height="16.54" fill="#515151" stroke="#fff" stroke-width="1.4"/>
<rect x="1303.48" y="1972.45" width="16.54" height="16.54" fill="#515151" stroke="#fff" stroke-width="1.4"/>
<rect x="1428.63" y="1972.45" width="16.54" height="16.54" fill="#515151" stroke="#fff" stroke-width="1.4"/>
<rect x="1553.78" y="2057.33" width="16.54" height="16.54" fill="#515151" stroke="#fff" stroke-width="1.4"/>
<rect x="1678.93" y="2147.21" width="16.54" height="16.54" fill="#515151" stroke="#fff" stroke-width="1.4"/>
<rect x="1804.08" y="2167.18" width="16.54" height="16.54" fill="#515151" stroke="#fff" stroke-width="1.4"/>
<rect x="1929.23" y="2202.13" width="16.54" height="16.54" fill="#515151" stroke="#fff" stroke-width="1.4"/>
<polyline points="1186.6,1980.72 1311.75,1980.72 1436.9,1980.72 1562.05,2140.5 1687.2,2210.4 1812.35,2210.4 1937.5,2210.4" fill="none" stroke="#F14040" stroke-width="4.1" stroke-linejoin="round"/>
<circle cx="1186.6" cy="1980.72" r="9.12" fill="#F14040" stroke="#fff" stroke-width="1.4"/>
<circle cx="1311.75" cy="1980.72" r="9.12" fill="#F14040" stroke="#fff" stroke-width="1.4"/>
<circle cx="1436.9" cy="1980.72" r="9.12" fill="#F14040" stroke="#fff" stroke-width="1.4"/>
<circle cx="1562.05" cy="2140.5" r="9.12" fill="#F14040" stroke="#fff" stroke-width="1.4"/>
<circle cx="1687.2" cy="2210.4" r="9.12" fill="#F14040" stroke="#fff" stroke-width="1.4"/>
<circle cx="1812.35" cy="2210.4" r="9.12" fill="#F14040" stroke="#fff" stroke-width="1.4"/>
<circle cx="1937.5" cy="2210.4" r="9.12" fill="#F14040" stroke="#fff" stroke-width="1.4"/>
<polyline points="1186.6,1980.72 1311.75,1980.72 1436.9,1980.72 1562.05,2075.59 1687.2,2135.5 1812.35,2190.43 1937.5,2225.38" fill="none" stroke="#1A6FDF" stroke-width="4.1" stroke-linejoin="round"/>
<polygon points="1186.6,1969.53 1197.41,1988.18 1175.79,1988.18" fill="#1A6FDF" stroke="#fff" stroke-width="1.4"/>
<polygon points="1311.75,1969.53 1322.56,1988.18 1300.94,1988.18" fill="#1A6FDF" stroke="#fff" stroke-width="1.4"/>
<polygon points="1436.9,1969.53 1447.71,1988.18 1426.09,1988.18" fill="#1A6FDF" stroke="#fff" stroke-width="1.4"/>
<polygon points="1562.05,2064.39 1572.86,2083.05 1551.24,2083.05" fill="#1A6FDF" stroke="#fff" stroke-width="1.4"/>
<polygon points="1687.2,2124.31 1698.01,2142.97 1676.39,2142.97" fill="#1A6FDF" stroke="#fff" stroke-width="1.4"/>
<polygon points="1812.35,2179.23 1823.16,2197.89 1801.54,2197.89" fill="#1A6FDF" stroke="#fff" stroke-width="1.4"/>
<polygon points="1937.5,2214.18 1948.31,2232.84 1926.69,2232.84" fill="#1A6FDF" stroke="#fff" stroke-width="1.4"/>
<polyline points="1186.6,1980.72 1311.75,1980.72 1436.9,1980.72 1562.05,1980.72 1687.2,1975.73 1812.35,2095.56 1937.5,2145.49" fill="none" stroke="#37AD6B" stroke-width="4.1" stroke-linejoin="round"/>
<polygon points="1186.6,1991.91 1197.41,1973.26 1175.79,1973.26" fill="#37AD6B" stroke="#fff" stroke-width="1.4"/>
<polygon points="1311.75,1991.91 1322.56,1973.26 1300.94,1973.26" fill="#37AD6B" stroke="#fff" stroke-width="1.4"/>
<polygon points="1436.9,1991.91 1447.71,1973.26 1426.09,1973.26" fill="#37AD6B" stroke="#fff" stroke-width="1.4"/>
<polygon points="1562.05,1991.91 1572.86,1973.26 1551.24,1973.26" fill="#37AD6B" stroke="#fff" stroke-width="1.4"/>
<polygon points="1687.2,1986.92 1698.01,1968.26 1676.39,1968.26" fill="#37AD6B" stroke="#fff" stroke-width="1.4"/>
<polygon points="1812.35,2106.75 1823.16,2088.1 1801.54,2088.1" fill="#37AD6B" stroke="#fff" stroke-width="1.4"/>
<polygon points="1937.5,2156.68 1948.31,2138.03 1926.69,2138.03" fill="#37AD6B" stroke="#fff" stroke-width="1.4"/>
<polyline points="1186.6,1980.72 1311.75,1983.22 1436.9,2078.08 1562.05,2075.59 1687.2,2080.58 1812.35,2030.65 1937.5,2080.58" fill="none" stroke="#B177DE" stroke-width="4.1" stroke-linejoin="round"/>
<polygon points="1186.6,1969.91 1195.93,1980.72 1186.6,1991.53 1177.27,1980.72" fill="#B177DE" stroke="#fff" stroke-width="1.4"/>
<polygon points="1311.75,1972.4 1321.08,1983.22 1311.75,1994.03 1302.42,1983.22" fill="#B177DE" stroke="#fff" stroke-width="1.4"/>
<polygon points="1436.9,2067.27 1446.23,2078.08 1436.9,2088.9 1427.57,2078.08" fill="#B177DE" stroke="#fff" stroke-width="1.4"/>
<polygon points="1562.05,2064.78 1571.38,2075.59 1562.05,2086.4 1552.72,2075.59" fill="#B177DE" stroke="#fff" stroke-width="1.4"/>
<polygon points="1687.2,2069.77 1696.53,2080.58 1687.2,2091.39 1677.87,2080.58" fill="#B177DE" stroke="#fff" stroke-width="1.4"/>
<polygon points="1812.35,2019.84 1821.68,2030.65 1812.35,2041.46 1803.02,2030.65" fill="#B177DE" stroke="#fff" stroke-width="1.4"/>
<polygon points="1937.5,2069.77 1946.83,2080.58 1937.5,2091.39 1928.17,2080.58" fill="#B177DE" stroke="#fff" stroke-width="1.4"/>
<polyline points="1186.6,1980.72 1311.75,1980.72 1436.9,1980.72 1562.05,2000.69 1687.2,2095.56 1812.35,2110.54 1937.5,2120.52" fill="none" stroke="#CC9900" stroke-width="4.1" stroke-linejoin="round"/>
<polygon points="1175.41,1980.72 1194.06,1969.91 1194.06,1991.53" fill="#CC9900" stroke="#fff" stroke-width="1.4"/>
<polygon points="1300.56,1980.72 1319.21,1969.91 1319.21,1991.53" fill="#CC9900" stroke="#fff" stroke-width="1.4"/>
<polygon points="1425.71,1980.72 1444.36,1969.91 1444.36,1991.53" fill="#CC9900" stroke="#fff" stroke-width="1.4"/>
<polygon points="1550.86,2000.69 1569.51,1989.88 1569.51,2011.5" fill="#CC9900" stroke="#fff" stroke-width="1.4"/>
<polygon points="1676.01,2095.56 1694.66,2084.75 1694.66,2106.37" fill="#CC9900" stroke="#fff" stroke-width="1.4"/>
<polygon points="1801.16,2110.54 1819.81,2099.73 1819.81,2121.35" fill="#CC9900" stroke="#fff" stroke-width="1.4"/>
<polygon points="1926.31,2120.52 1944.96,2109.71 1944.96,2131.34" fill="#CC9900" stroke="#fff" stroke-width="1.4"/>
<polyline points="1186.6,1980.72 1311.75,1980.72 1436.9,1980.72 1562.05,1980.72 1687.2,2205.41 1812.35,2210.4 1937.5,2165.46" fill="none" stroke="#00CBCC" stroke-width="4.1" stroke-linejoin="round"/>
<polygon points="1197.79,1980.72 1179.14,1969.91 1179.14,1991.53" fill="#00CBCC" stroke="#fff" stroke-width="1.4"/>
<polygon points="1322.94,1980.72 1304.29,1969.91 1304.29,1991.53" fill="#00CBCC" stroke="#fff" stroke-width="1.4"/>
<polygon points="1448.09,1980.72 1429.44,1969.91 1429.44,1991.53" fill="#00CBCC" stroke="#fff" stroke-width="1.4"/>
<polygon points="1573.24,1980.72 1554.59,1969.91 1554.59,1991.53" fill="#00CBCC" stroke="#fff" stroke-width="1.4"/>
<polygon points="1698.39,2205.41 1679.74,2194.59 1679.74,2216.22" fill="#00CBCC" stroke="#fff" stroke-width="1.4"/>
<polygon points="1823.54,2210.4 1804.89,2199.59 1804.89,2221.21" fill="#00CBCC" stroke="#fff" stroke-width="1.4"/>
<polygon points="1948.69,2165.46 1930.04,2154.65 1930.04,2176.27" fill="#00CBCC" stroke="#fff" stroke-width="1.4"/>
<polyline points="1186.6,1980.72 1311.75,1980.72 1436.9,1980.72 1562.05,2165.46 1687.2,2105.55 1812.35,2105.55 1937.5,2165.46" fill="none" stroke="#7D4E4E" stroke-width="4.1" stroke-linejoin="round"/>
<polygon points="1186.6,1970.23 1195.69,1975.47 1195.69,1985.97 1186.6,1991.21 1177.51,1985.97 1177.51,1975.47" fill="#7D4E4E" stroke="#fff" stroke-width="1.4"/>
<polygon points="1311.75,1970.23 1320.84,1975.47 1320.84,1985.97 1311.75,1991.21 1302.66,1985.97 1302.66,1975.47" fill="#7D4E4E" stroke="#fff" stroke-width="1.4"/>
<polygon points="1436.9,1970.23 1445.99,1975.47 1445.99,1985.97 1436.9,1991.21 1427.81,1985.97 1427.81,1975.47" fill="#7D4E4E" stroke="#fff" stroke-width="1.4"/>
<polygon points="1562.05,2154.97 1571.14,2160.21 1571.14,2170.71 1562.05,2175.96 1552.96,2170.71 1552.96,2160.21" fill="#7D4E4E" stroke="#fff" stroke-width="1.4"/>
<polygon points="1687.2,2095.05 1696.29,2100.3 1696.29,2110.79 1687.2,2116.04 1678.11,2110.79 1678.11,2100.3" fill="#7D4E4E" stroke="#fff" stroke-width="1.4"/>
<polygon points="1812.35,2095.05 1821.44,2100.3 1821.44,2110.79 1812.35,2116.04 1803.26,2110.79 1803.26,2100.3" fill="#7D4E4E" stroke="#fff" stroke-width="1.4"/>
<polygon points="1937.5,2154.97 1946.59,2160.21 1946.59,2170.71 1937.5,2175.96 1928.41,2170.71 1928.41,2160.21" fill="#7D4E4E" stroke="#fff" stroke-width="1.4"/>
<polyline points="1186.6,1980.72 1311.75,1980.72 1436.9,1980.72 1562.05,1980.72 1687.2,2065.6 1812.35,1980.72 1937.5,2040.64" fill="none" stroke="#8E8E00" stroke-width="4.1" stroke-linejoin="round"/>
<polygon points="1186.6,1969.27 1189.28,1977.03 1197.49,1977.18 1190.93,1982.13 1193.33,1989.98 1186.6,1985.28 1179.87,1989.98 1182.27,1982.13 1175.71,1977.18 1183.92,1977.03" fill="#8E8E00" stroke="#fff" stroke-width="1.4"/>
<polygon points="1311.75,1969.27 1314.43,1977.03 1322.64,1977.18 1316.08,1982.13 1318.48,1989.98 1311.75,1985.28 1305.02,1989.98 1307.42,1982.13 1300.86,1977.18 1309.07,1977.03" fill="#8E8E00" stroke="#fff" stroke-width="1.4"/>
<polygon points="1436.9,1969.27 1439.58,1977.03 1447.79,1977.18 1441.23,1982.13 1443.63,1989.98 1436.9,1985.28 1430.17,1989.98 1432.57,1982.13 1426.01,1977.18 1434.22,1977.03" fill="#8E8E00" stroke="#fff" stroke-width="1.4"/>
<polygon points="1562.05,1969.27 1564.73,1977.03 1572.94,1977.18 1566.38,1982.13 1568.78,1989.98 1562.05,1985.28 1555.32,1989.98 1557.72,1982.13 1551.16,1977.18 1559.37,1977.03" fill="#8E8E00" stroke="#fff" stroke-width="1.4"/>
<polygon points="1687.2,2054.15 1689.88,2061.91 1698.09,2062.06 1691.53,2067.01 1693.93,2074.86 1687.2,2070.16 1680.47,2074.86 1682.87,2067.01 1676.31,2062.06 1684.52,2061.91" fill="#8E8E00" stroke="#fff" stroke-width="1.4"/>
<polygon points="1812.35,1969.27 1815.03,1977.03 1823.24,1977.18 1816.68,1982.13 1819.08,1989.98 1812.35,1985.28 1805.62,1989.98 1808.02,1982.13 1801.46,1977.18 1809.67,1977.03" fill="#8E8E00" stroke="#fff" stroke-width="1.4"/>
<polygon points="1937.5,2029.19 1940.18,2036.95 1948.39,2037.1 1941.83,2042.04 1944.23,2049.9 1937.5,2045.19 1930.77,2049.9 1933.17,2042.04 1926.61,2037.1 1934.82,2036.95" fill="#8E8E00" stroke="#fff" stroke-width="1.4"/>
<polyline points="1186.6,1980.72 1311.75,1980.72 1436.9,1980.72 1562.05,2170.45 1687.2,2135.5 1812.35,2250.34 1937.5,2250.34" fill="none" stroke="#FB6501" stroke-width="4.1" stroke-linejoin="round"/>
<polygon points="1186.6,1970.51 1196.88,1977.98 1192.96,1990.07 1180.24,1990.07 1176.32,1977.98" fill="#FB6501" stroke="#fff" stroke-width="1.4"/>
<polygon points="1311.75,1970.51 1322.03,1977.98 1318.11,1990.07 1305.39,1990.07 1301.47,1977.98" fill="#FB6501" stroke="#fff" stroke-width="1.4"/>
<polygon points="1436.9,1970.51 1447.18,1977.98 1443.26,1990.07 1430.54,1990.07 1426.62,1977.98" fill="#FB6501" stroke="#fff" stroke-width="1.4"/>
<polygon points="1562.05,2160.24 1572.33,2167.71 1568.41,2179.8 1555.69,2179.8 1551.77,2167.71" fill="#FB6501" stroke="#fff" stroke-width="1.4"/>
<polygon points="1687.2,2125.29 1697.48,2132.76 1693.56,2144.85 1680.84,2144.85 1676.92,2132.76" fill="#FB6501" stroke="#fff" stroke-width="1.4"/>
<polygon points="1812.35,2240.13 1822.63,2247.6 1818.71,2259.69 1805.99,2259.69 1802.07,2247.6" fill="#FB6501" stroke="#fff" stroke-width="1.4"/>
<polygon points="1937.5,2240.13 1947.78,2247.6 1943.86,2259.69 1931.14,2259.69 1927.22,2247.6" fill="#FB6501" stroke="#fff" stroke-width="1.4"/>
<rect x="1124.5" y="1880.8" width="875.9" height="399.5" fill="none" stroke="#000" stroke-width="4.8"/>
<line x1="1186.6" y1="2280.3" x2="1186.6" y2="2271.3" stroke="#000" stroke-width="4.4"/>
<line x1="1249.17" y1="2280.3" x2="1249.17" y2="2275.3" stroke="#000" stroke-width="4.4"/>
<text x="1186.6" y="2315.6" font-size="33.2" font-weight="bold" text-anchor="middle" fill="#000">1</text>
<line x1="1311.75" y1="2280.3" x2="1311.75" y2="2271.3" stroke="#000" stroke-width="4.4"/>
<line x1="1374.32" y1="2280.3" x2="1374.32" y2="2275.3" stroke="#000" stroke-width="4.4"/>
<text x="1311.75" y="2315.6" font-size="33.2" font-weight="bold" text-anchor="middle" fill="#000">2</text>
<line x1="1436.9" y1="2280.3" x2="1436.9" y2="2271.3" stroke="#000" stroke-width="4.4"/>
<line x1="1499.47" y1="2280.3" x2="1499.47" y2="2275.3" stroke="#000" stroke-width="4.4"/>
<text x="1436.9" y="2315.6" font-size="33.2" font-weight="bold" text-anchor="middle" fill="#000">3</text>
<line x1="1562.05" y1="2280.3" x2="1562.05" y2="2271.3" stroke="#000" stroke-width="4.4"/>
<line x1="1624.62" y1="2280.3" x2="1624.62" y2="2275.3" stroke="#000" stroke-width="4.4"/>
<text x="1562.05" y="2315.6" font-size="33.2" font-weight="bold" text-anchor="middle" fill="#000">4</text>
<line x1="1687.2" y1="2280.3" x2="1687.2" y2="2271.3" stroke="#000" stroke-width="4.4"/>
<line x1="1749.78" y1="2280.3" x2="1749.78" y2="2275.3" stroke="#000" stroke-width="4.4"/>
<text x="1687.2" y="2315.6" font-size="33.2" font-weight="bold" text-anchor="middle" fill="#000">5</text>
<line x1="1812.35" y1="2280.3" x2="1812.35" y2="2271.3" stroke="#000" stroke-width="4.4"/>
<line x1="1874.92" y1="2280.3" x2="1874.92" y2="2275.3" stroke="#000" stroke-width="4.4"/>
<text x="1812.35" y="2315.6" font-size="33.2" font-weight="bold" text-anchor="middle" fill="#000">6</text>
<line x1="1937.5" y1="2280.3" x2="1937.5" y2="2271.3" stroke="#000" stroke-width="4.4"/>
<text x="1937.5" y="2315.6" font-size="33.2" font-weight="bold" text-anchor="middle" fill="#000">7</text>
<line x1="1124.5" y1="2280.3" x2="1133.5" y2="2280.3" stroke="#000" stroke-width="4.4"/>
<text x="1114" y="2292.2" font-size="33.2" font-weight="bold" text-anchor="end" fill="#000">0</text>
<line x1="1124.5" y1="2180.44" x2="1133.5" y2="2180.44" stroke="#000" stroke-width="4.4"/>
<text x="1114" y="2192.34" font-size="33.2" font-weight="bold" text-anchor="end" fill="#000">20</text>
<line x1="1124.5" y1="2080.58" x2="1133.5" y2="2080.58" stroke="#000" stroke-width="4.4"/>
<text x="1114" y="2092.48" font-size="33.2" font-weight="bold" text-anchor="end" fill="#000">40</text>
<line x1="1124.5" y1="1980.72" x2="1133.5" y2="1980.72" stroke="#000" stroke-width="4.4"/>
<text x="1114" y="1992.62" font-size="33.2" font-weight="bold" text-anchor="end" fill="#000">60</text>
<line x1="1124.5" y1="1880.86" x2="1133.5" y2="1880.86" stroke="#000" stroke-width="4.4"/>
<text x="1114" y="1892.76" font-size="33.2" font-weight="bold" text-anchor="end" fill="#000">80</text>
<line x1="1124.5" y1="2230.37" x2="1129.5" y2="2230.37" stroke="#000" stroke-width="4.4"/>
<line x1="1124.5" y1="2130.51" x2="1129.5" y2="2130.51" stroke="#000" stroke-width="4.4"/>
<line x1="1124.5" y1="2030.65" x2="1129.5" y2="2030.65" stroke="#000" stroke-width="4.4"/>
<line x1="1124.5" y1="1930.79" x2="1129.5" y2="1930.79" stroke="#000" stroke-width="4.4"/>
<text x="1563" y="2345.3" font-size="33.8" font-weight="bold" text-anchor="middle" fill="#000">Training times</text>
<text x="1067" y="2080.4" font-size="33.7" font-weight="bold" text-anchor="middle" fill="#000" transform="rotate(-90 1067 2080.4)">Training time (min)</text>
<text x="1036" y="1875.2" font-size="46" font-weight="bold" fill="#000">d</text>
</svg>
</body></html>
